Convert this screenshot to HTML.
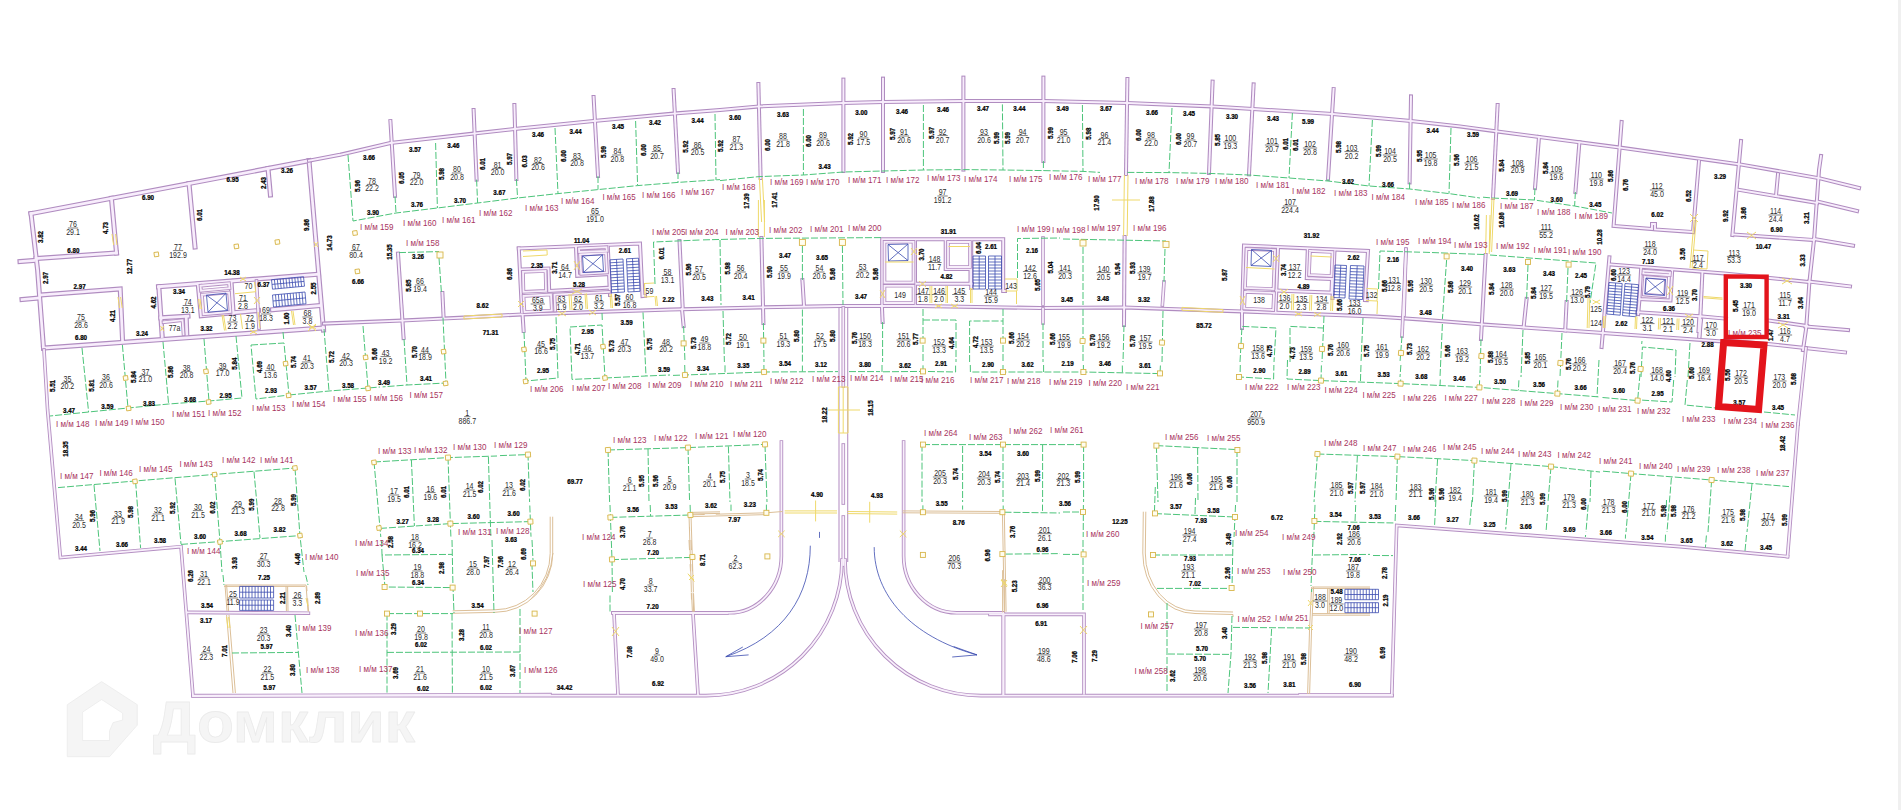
<!DOCTYPE html>
<html lang="ru"><head><meta charset="utf-8"><title>План этажа</title>
<style>
html,body{margin:0;padding:0;background:#fff;}
body{width:1901px;height:810px;overflow:hidden;}
svg{display:block;font-family:"Liberation Sans",sans-serif;}
.wo{fill:none;stroke:#b08cc0;stroke-width:5;stroke-linecap:square;stroke-linejoin:miter;}
.wi{fill:none;stroke:#f8edfc;stroke-width:2.7;stroke-linecap:square;stroke-linejoin:miter;}
.mo{fill:none;stroke:#b08cc0;stroke-width:4;stroke-linecap:square;stroke-linejoin:miter;}
.mi{fill:none;stroke:#f8edfc;stroke-width:1.9;stroke-linecap:square;stroke-linejoin:miter;}
.to{fill:none;stroke:#b48fc2;stroke-width:3.6;stroke-linecap:square;stroke-linejoin:miter;}
.ti{fill:none;stroke:#f8effb;stroke-width:1.8;stroke-linecap:square;stroke-linejoin:miter;}
.pl{fill:none;stroke:#b894c6;stroke-width:1.1;}
.g{fill:none;stroke:#4cc47a;stroke-width:1;stroke-dasharray:7 2;}
.gs{fill:none;stroke:#44c272;stroke-width:1;}
.d{font-size:6.9px;font-weight:bold;fill:#000;stroke:#000;stroke-width:.25;text-anchor:middle;}
.r{font-size:8.8px;fill:#2a2a2a;text-anchor:middle;}
.ru{stroke:#333;stroke-width:.7;}
.m{font-size:8.2px;fill:#a8345e;text-anchor:start;}
.c{fill:#fffdf0;stroke:#d8b64a;stroke-width:.9;}
.tn{fill:none;stroke:#dcbf98;stroke-width:1;}
.y{fill:none;stroke:#efd96a;stroke-width:1;}
.b{fill:none;stroke:#3b4bb0;stroke-width:.8;}
.red{fill:none;stroke:#e3141c;stroke-width:4;}
.wm{fill:#f5f5f5;stroke:#ebebeb;stroke-width:.8;stroke-linejoin:round;}
</style></head><body>
<svg width="1901" height="810" viewBox="0 0 1901 810">
<rect width="1901" height="810" fill="#fff"/><rect x="1898" width="3" height="810" fill="#f0f0f0"/>

<g class="wo">
<polyline points="31,213.6 309,160.7"/>
<polyline points="31,213.6 37.6,270 43.5,348"/>
<polyline points="20,261.5 34,260.5"/>
<polyline points="22,299.5 39,298"/>
<polyline points="111.4,198.3 116.5,253"/>
<polyline points="36,258.5 116.5,253"/>
<polyline points="40,295 120.2,289 122.6,341.5"/>
<polyline points="43.5,348 323.5,328"/>
<polyline points="189,183.6 195,247"/>
<polyline points="268,168.5 270.4,195"/>
<polyline points="309,160.6 323.5,330"/>
<polyline points="158.5,286.7 318.5,274.2"/>
<polyline points="158.8,286.7 162.2,336.5"/>
<polyline points="160.8,317.8 188,316.2"/>
<polyline points="186.2,316.5 186.8,334"/>
<polyline points="198.2,284 201.2,315.7 258.5,310.5"/>
<polyline points="231,281.5 233.2,313.2"/>
<polyline points="272.5,309.7 320.5,305.5"/>
</g>
<g class="wi">
<polyline points="31,213.6 309,160.7"/>
<polyline points="31,213.6 37.6,270 43.5,348"/>
<polyline points="20,261.5 34,260.5"/>
<polyline points="22,299.5 39,298"/>
<polyline points="111.4,198.3 116.5,253"/>
<polyline points="36,258.5 116.5,253"/>
<polyline points="40,295 120.2,289 122.6,341.5"/>
<polyline points="43.5,348 323.5,328"/>
<polyline points="189,183.6 195,247"/>
<polyline points="268,168.5 270.4,195"/>
<polyline points="309,160.6 323.5,330"/>
<polyline points="158.5,286.7 318.5,274.2"/>
<polyline points="158.8,286.7 162.2,336.5"/>
<polyline points="160.8,317.8 188,316.2"/>
<polyline points="186.2,316.5 186.8,334"/>
<polyline points="198.2,284 201.2,315.7 258.5,310.5"/>
<polyline points="231,281.5 233.2,313.2"/>
<polyline points="272.5,309.7 320.5,305.5"/>
</g>
<g class="mo">
<polyline points="309,160.7 340,154.8 390.4,143 473.6,133.6 514.4,129 593.6,121 673.6,113.6 720,110 759,106.4 843.4,103 883,102 963.4,101 1043.4,101 1127.4,103 1212,106.4 1253,109 1332.6,114 1411,121 1460,126.4 1497,131.4 1620,147.6 1740,164.4 1820,178.4 1859,188"/>
<polyline points="398,253.6 403.6,338"/>
<polyline points="442.4,293 443.6,317.6"/>
<polyline points="522.6,315 523.6,331"/>
<polyline points="518.8,248.5 640,243.5 642.5,296 645,295.8"/>
<polyline points="518.8,248.5 522,312"/>
<polyline points="521,269.5 548.5,268.5 549.2,291 609.5,287.7"/>
<polyline points="576,247.8 577.2,275.8 608.5,274"/>
<polyline points="607.8,246.8 610,295"/>
<polyline points="679.5,241 682.7,308"/>
<polyline points="390.4,121 395,196"/>
<polyline points="473.6,110 476.6,179.6"/>
<polyline points="514.4,105 516.4,179"/>
<polyline points="593.6,97 598,176"/>
<polyline points="673.6,90 678,172"/>
<polyline points="758.4,84 760.6,178"/>
<polyline points="843.4,79.6 843.4,171"/>
<polyline points="883,78.6 883,171"/>
<polyline points="963.4,77.6 963.4,169.6"/>
<polyline points="1043.4,77.6 1043.4,161"/>
<polyline points="1127.4,79 1126,174"/>
<polyline points="1212.6,81.6 1209,173"/>
<polyline points="1253.6,84.4 1249,174.4"/>
<polyline points="1333.6,89 1328,179"/>
<polyline points="1411,96.4 1409.6,182.4"/>
<polyline points="1497.6,105 1493,198"/>
<polyline points="1539,137 1535,188"/>
<polyline points="1579.4,142.4 1575.4,192"/>
<polyline points="1621.6,122 1613.6,226 1652,229 1652,224 1655,224 1655,229.4 1693,232"/>
<polyline points="1699,161 1693,232"/>
<polyline points="1741,141 1732.4,235"/>
<polyline points="1821,156 1819,170 1814.2,238 1809.4,282 1806.2,328 1803,350"/>
<polyline points="1817,201.4 1857,211"/>
<polyline points="1814,239 1853,245.6"/>
<polyline points="1809,281.6 1850,286.4"/>
<polyline points="1805.4,326.4 1848,330"/>
<polyline points="1738,189.6 1817,203"/>
<polyline points="1778,174 1776,195.6"/>
<polyline points="1733,234.4 1814,240"/>
<polyline points="682,309 683.6,326"/>
<polyline points="761.4,238 763.4,323"/>
<polyline points="802.4,280 804,305.6"/>
<polyline points="882,308 882.6,322"/>
<polyline points="882.2,305 882.2,239.2 1003.2,239.2 1003.2,291 1005,291"/>
<polyline points="915,240 915,304"/>
<polyline points="945.7,240 945.7,269 970.5,269 970.5,283.8"/>
<polyline points="915,283.8 972,283.8"/>
<polyline points="971.2,240 971.2,288"/>
<polyline points="1124.6,237 1124,325"/>
<polyline points="1242,312 1242,328"/>
<polyline points="1242,314 1244,245.5 1368,251 1365,300 1366.8,300.1"/>
<polyline points="1278,248 1275.5,311"/>
<polyline points="1307.8,249 1306.8,278 1332,279 1331.5,292"/>
<polyline points="1276,290.5 1333,292.7"/>
<polyline points="1334.5,250 1332.5,298"/>
<polyline points="1485.6,255 1481,339"/>
<polyline points="1526.6,299 1523.6,327.4"/>
<polyline points="1566.6,302 1565.2,330.4"/>
<polyline points="1609.4,257.4 1601.6,347"/>
<polyline points="1610,264.4 1724,273.4 1809,282"/>
<polyline points="1637.4,312.2 1699.6,316.3 1726,318.7"/>
<polyline points="1702.4,272.4 1699.4,337"/>
<polyline points="1641.2,267.2 1639.5,299 1670.5,300.5 1672.2,270"/>
<polyline points="1639.5,299 1638.2,314"/>
<polyline points="1699.3,316.8 1698.5,331"/>
<polyline points="1768,320.4 1807,326"/>
<polyline points="1701,320 1699.4,336.4"/>
<polyline points="324,323.6 402,320.6 464,317.6 522,314.4 670,309.6 760,307.4 840,306 920,306 1040,308 1124,307.4 1242,311.4 1376,316.6 1420,319.4 1484,324.6 1603,333 1722,341.4 1724,340.6 1768,344 1805,348 1845,352.4"/>
</g>
<g class="mi">
<polyline points="309,160.7 340,154.8 390.4,143 473.6,133.6 514.4,129 593.6,121 673.6,113.6 720,110 759,106.4 843.4,103 883,102 963.4,101 1043.4,101 1127.4,103 1212,106.4 1253,109 1332.6,114 1411,121 1460,126.4 1497,131.4 1620,147.6 1740,164.4 1820,178.4 1859,188"/>
<polyline points="398,253.6 403.6,338"/>
<polyline points="442.4,293 443.6,317.6"/>
<polyline points="522.6,315 523.6,331"/>
<polyline points="518.8,248.5 640,243.5 642.5,296 645,295.8"/>
<polyline points="518.8,248.5 522,312"/>
<polyline points="521,269.5 548.5,268.5 549.2,291 609.5,287.7"/>
<polyline points="576,247.8 577.2,275.8 608.5,274"/>
<polyline points="607.8,246.8 610,295"/>
<polyline points="679.5,241 682.7,308"/>
<polyline points="390.4,121 395,196"/>
<polyline points="473.6,110 476.6,179.6"/>
<polyline points="514.4,105 516.4,179"/>
<polyline points="593.6,97 598,176"/>
<polyline points="673.6,90 678,172"/>
<polyline points="758.4,84 760.6,178"/>
<polyline points="843.4,79.6 843.4,171"/>
<polyline points="883,78.6 883,171"/>
<polyline points="963.4,77.6 963.4,169.6"/>
<polyline points="1043.4,77.6 1043.4,161"/>
<polyline points="1127.4,79 1126,174"/>
<polyline points="1212.6,81.6 1209,173"/>
<polyline points="1253.6,84.4 1249,174.4"/>
<polyline points="1333.6,89 1328,179"/>
<polyline points="1411,96.4 1409.6,182.4"/>
<polyline points="1497.6,105 1493,198"/>
<polyline points="1539,137 1535,188"/>
<polyline points="1579.4,142.4 1575.4,192"/>
<polyline points="1621.6,122 1613.6,226 1652,229 1652,224 1655,224 1655,229.4 1693,232"/>
<polyline points="1699,161 1693,232"/>
<polyline points="1741,141 1732.4,235"/>
<polyline points="1821,156 1819,170 1814.2,238 1809.4,282 1806.2,328 1803,350"/>
<polyline points="1817,201.4 1857,211"/>
<polyline points="1814,239 1853,245.6"/>
<polyline points="1809,281.6 1850,286.4"/>
<polyline points="1805.4,326.4 1848,330"/>
<polyline points="1738,189.6 1817,203"/>
<polyline points="1778,174 1776,195.6"/>
<polyline points="1733,234.4 1814,240"/>
<polyline points="682,309 683.6,326"/>
<polyline points="761.4,238 763.4,323"/>
<polyline points="802.4,280 804,305.6"/>
<polyline points="882,308 882.6,322"/>
<polyline points="882.2,305 882.2,239.2 1003.2,239.2 1003.2,291 1005,291"/>
<polyline points="915,240 915,304"/>
<polyline points="945.7,240 945.7,269 970.5,269 970.5,283.8"/>
<polyline points="915,283.8 972,283.8"/>
<polyline points="971.2,240 971.2,288"/>
<polyline points="1124.6,237 1124,325"/>
<polyline points="1242,312 1242,328"/>
<polyline points="1242,314 1244,245.5 1368,251 1365,300 1366.8,300.1"/>
<polyline points="1278,248 1275.5,311"/>
<polyline points="1307.8,249 1306.8,278 1332,279 1331.5,292"/>
<polyline points="1276,290.5 1333,292.7"/>
<polyline points="1334.5,250 1332.5,298"/>
<polyline points="1485.6,255 1481,339"/>
<polyline points="1526.6,299 1523.6,327.4"/>
<polyline points="1566.6,302 1565.2,330.4"/>
<polyline points="1609.4,257.4 1601.6,347"/>
<polyline points="1610,264.4 1724,273.4 1809,282"/>
<polyline points="1637.4,312.2 1699.6,316.3 1726,318.7"/>
<polyline points="1702.4,272.4 1699.4,337"/>
<polyline points="1641.2,267.2 1639.5,299 1670.5,300.5 1672.2,270"/>
<polyline points="1639.5,299 1638.2,314"/>
<polyline points="1699.3,316.8 1698.5,331"/>
<polyline points="1768,320.4 1807,326"/>
<polyline points="1701,320 1699.4,336.4"/>
<polyline points="324,323.6 402,320.6 464,317.6 522,314.4 670,309.6 760,307.4 840,306 920,306 1040,308 1124,307.4 1242,311.4 1376,316.6 1420,319.4 1484,324.6 1603,333 1722,341.4 1724,340.6 1768,344 1805,348 1845,352.4"/>
</g>
<g class="to">
<polyline points="163.5,322.2 182.5,320.2 183.5,334.2"/>
<polyline points="200.5,285.7 229,283.2 229.5,288.2 201,290.7 200.5,285.7"/>
<polyline points="202,294.7 229,292.4 230.5,312 203.5,314.2 202,294.7"/>
<polyline points="256.5,281 259,328"/>
<polyline points="44,350 47.6,410 60.4,557.6 181,546.6 193,696 550,694.6"/>
<polyline points="523,271.8 545.5,271 546,290.8 523.5,291.8 523,271.8"/>
<polyline points="579,248.5 606.5,247.2 606.8,251 579.2,252 579,248.5"/>
<polyline points="580,254.5 606,253.2 607,272.5 581.2,273.8 580,254.5"/>
<polyline points="523.5,296 551,294.5 551.8,310.5 524.5,312 523.5,296"/>
<polyline points="555.2,310.5 554.5,294.5 609,292"/>
<polyline points="884.5,241.8 913.5,241.8 913.5,282.5 884.5,282.5 884.5,241.8"/>
<polyline points="948,242 970,242 970,267 948,267 948,242"/>
<polyline points="884.5,285.8 913.5,285.8 913.5,303 884.5,303 884.5,285.8"/>
<polyline points="1043,238 1043,304"/>
<polyline points="1043,309 1043,323"/>
<polyline points="1164,282 1162.4,305"/>
<polyline points="1406,249 1402,336"/>
<polyline points="1246.5,249 1275,250 1273.5,289 1245,288 1246.5,249"/>
<polyline points="1310,251 1332.5,252 1331.5,276 1309,275 1310,251"/>
<polyline points="1245,292 1274,293 1273.2,310 1244.2,308.5 1245,292"/>
<polyline points="1406,250 1404,315"/>
<polyline points="1643.5,270.7 1670,272.7 1669.8,275.2 1643.3,273.5 1643.5,270.7"/>
<polyline points="1645,276.8 1666.2,278.5 1665,296.2 1643.8,294.5 1645,276.8"/>
<polyline points="1806,348 1798,424"/>
<polyline points="843.3,308 843.3,386"/>
<polyline points="843.3,445 843.3,503"/>
<polyline points="843.3,517 843.3,565"/>
<polyline points="1798,424 1787.5,556.6"/>
<polyline points="187.6,612.4 308.4,613.2"/>
<polyline points="614,613 618,694.4"/>
<polyline points="693,613.6 698,694.4"/>
<polyline points="613,613 727,613"/>
<polyline points="1003.2,613 1003.2,694.1"/>
<polyline points="990,614.4 1084,614.4 1084,693.6"/>
<polyline points="1003.6,614.4 1003.6,693.6"/>
<polyline points="1300,695 1391.8,695 1396.7,525.4 1680,546.6 1787.5,556.6"/>
<path d="M781.4 442 V555.4 A51.8 57 0 0 1 729.6 612.8 H613"/>
<path d="M903.6 442 V555.4 A53 57 0 0 0 956.6 612.8 H1003"/>
<path d="M193 695.6 H706 A136 135.6 0 0 0 842 560"/>
<path d="M845 560 A136 135.6 0 0 0 981 695.6 H1392"/>
</g><g class="ti">
<polyline points="163.5,322.2 182.5,320.2 183.5,334.2"/>
<polyline points="200.5,285.7 229,283.2 229.5,288.2 201,290.7 200.5,285.7"/>
<polyline points="202,294.7 229,292.4 230.5,312 203.5,314.2 202,294.7"/>
<polyline points="256.5,281 259,328"/>
<polyline points="44,350 47.6,410 60.4,557.6 181,546.6 193,696 550,694.6"/>
<polyline points="523,271.8 545.5,271 546,290.8 523.5,291.8 523,271.8"/>
<polyline points="579,248.5 606.5,247.2 606.8,251 579.2,252 579,248.5"/>
<polyline points="580,254.5 606,253.2 607,272.5 581.2,273.8 580,254.5"/>
<polyline points="523.5,296 551,294.5 551.8,310.5 524.5,312 523.5,296"/>
<polyline points="555.2,310.5 554.5,294.5 609,292"/>
<polyline points="884.5,241.8 913.5,241.8 913.5,282.5 884.5,282.5 884.5,241.8"/>
<polyline points="948,242 970,242 970,267 948,267 948,242"/>
<polyline points="884.5,285.8 913.5,285.8 913.5,303 884.5,303 884.5,285.8"/>
<polyline points="1043,238 1043,304"/>
<polyline points="1043,309 1043,323"/>
<polyline points="1164,282 1162.4,305"/>
<polyline points="1406,249 1402,336"/>
<polyline points="1246.5,249 1275,250 1273.5,289 1245,288 1246.5,249"/>
<polyline points="1310,251 1332.5,252 1331.5,276 1309,275 1310,251"/>
<polyline points="1245,292 1274,293 1273.2,310 1244.2,308.5 1245,292"/>
<polyline points="1406,250 1404,315"/>
<polyline points="1643.5,270.7 1670,272.7 1669.8,275.2 1643.3,273.5 1643.5,270.7"/>
<polyline points="1645,276.8 1666.2,278.5 1665,296.2 1643.8,294.5 1645,276.8"/>
<polyline points="1806,348 1798,424"/>
<polyline points="843.3,308 843.3,386"/>
<polyline points="843.3,445 843.3,503"/>
<polyline points="843.3,517 843.3,565"/>
<polyline points="1798,424 1787.5,556.6"/>
<polyline points="187.6,612.4 308.4,613.2"/>
<polyline points="614,613 618,694.4"/>
<polyline points="693,613.6 698,694.4"/>
<polyline points="613,613 727,613"/>
<polyline points="1003.2,613 1003.2,694.1"/>
<polyline points="990,614.4 1084,614.4 1084,693.6"/>
<polyline points="1003.6,614.4 1003.6,693.6"/>
<polyline points="1300,695 1391.8,695 1396.7,525.4 1680,546.6 1787.5,556.6"/>
<path d="M781.4 442 V555.4 A51.8 57 0 0 1 729.6 612.8 H613"/>
<path d="M903.6 442 V555.4 A53 57 0 0 0 956.6 612.8 H1003"/>
<path d="M193 695.6 H706 A136 135.6 0 0 0 842 560"/>
<path d="M845 560 A136 135.6 0 0 0 981 695.6 H1392"/>
</g>
<g class="pl">
<polyline points="839,308 839,562"/>
<polyline points="847.7,308 847.7,562"/>
</g>
<g class="tn">
<polyline points="225,585 306,585 308,611"/>
<polyline points="224,586.4 305,586.4"/>
<polyline points="225,585 227,611"/>
<polyline points="226.6,585 228.6,611"/>
<polyline points="286,586 286.4,611"/>
<polyline points="287.6,586 288,611"/>
<polyline points="306.6,586 307,591.1"/>
<polyline points="307.6,598.3 308.6,611.6"/>
<polyline points="226.6,615 233,693"/>
<polyline points="229,615 235.4,693"/>
<polyline points="690.4,512.4 720,511.8"/>
<polyline points="690.4,514 720,513.4"/>
<polyline points="689,515 691.4,592"/>
<polyline points="691,515 693.4,592"/>
<polyline points="689,540 689.5,550.1"/>
<polyline points="690.1,564.2 690.5,571.3"/>
<polyline points="691.5,593.4 692.4,611.6"/>
<polyline points="691,540 691.5,550.1"/>
<polyline points="692.1,564.2 692.5,571.3"/>
<polyline points="693.5,593.4 694.4,611.6"/>
<polyline points="690.5,514.9 704.7,514.5"/>
<polyline points="715.8,514.2 766.4,512.8 782.6,511.5"/>
<polyline points="690.5,516.7 766.4,514.6"/>
<polyline points="689.5,527 689.6,531"/>
<polyline points="691.3,592.5 691.5,599.6"/>
<polyline points="693.1,592.5 693.6,611.7"/>
<polyline points="902.5,510.9 1003.2,511.5"/>
<polyline points="902.5,512.8 1003.2,513.3"/>
<polyline points="1002.4,511.5 1004.3,611.7"/>
<polyline points="1004.3,511.5 1006.1,611.7"/>
<polyline points="1002.6,570.2 1002.6,612.4"/>
<polyline points="1004.6,579.2 1004.6,612.4"/>
<polyline points="1311.6,587 1309.6,628 1307.6,694"/>
<polyline points="1313.6,587 1311.6,628 1309.6,694"/>
<polyline points="1312,587 1370,587"/>
<polyline points="1312,588.4 1370,588.4"/>
<polyline points="1312,613.6 1370,613.6"/>
<polyline points="1312,615.2 1370,615.2"/>
<polyline points="1327.6,588.4 1327.6,613.6"/>
<polyline points="1329.2,588.4 1329.2,613.6"/>
<path d="M553.0 553.0 Q551.0 580.0 530.0 600.0"/>
<path d="M552.7 516.7 V553.3 A57.7 59 0 0 1 495 612.3 L452.7 613.3"/>
<path d="M550.2 516.7 V553.3 A55.2 56.5 0 0 1 495 609.8 L452.7 610.8"/>
<path d="M1143.3 511.7 L1142.8 553 A52 60 0 0 0 1195 613.5 L1233 614.5 V617"/>
<path d="M1145.8 511.7 L1145.3 553 A49.5 57.5 0 0 0 1195 611 L1233 612"/>
</g>
<g class="b">
<polyline points="206.5,295.2 226,293.2 227.5,310.5 208,312.2 206.5,295.2"/>
<polyline points="206.5,295.2 227.5,310.5"/>
<polyline points="226,293.2 208,312.2"/>
<polyline points="271.5,279.7 303.5,276.7 304.5,286.2 272.5,289.2 271.5,279.7"/>
<polyline points="274.4,279.4 275.4,288.9"/>
<polyline points="277.3,279.2 278.3,288.7"/>
<polyline points="280.2,278.9 281.2,288.4"/>
<polyline points="283.1,278.6 284.1,288.1"/>
<polyline points="286,278.3 287,287.8"/>
<polyline points="289,278.1 290,287.6"/>
<polyline points="291.9,277.8 292.9,287.3"/>
<polyline points="294.8,277.5 295.8,287"/>
<polyline points="297.7,277.2 298.7,286.7"/>
<polyline points="300.6,277 301.6,286.5"/>
<polyline points="272,284.4 304,281.4"/>
<polyline points="272.5,295 305,292 306,303.8 273.5,307 272.5,295"/>
<polyline points="275.5,294.7 276.5,306.7"/>
<polyline points="278.4,294.5 279.4,306.4"/>
<polyline points="281.4,294.2 282.4,306.1"/>
<polyline points="284.3,293.9 285.3,305.8"/>
<polyline points="287.3,293.6 288.3,305.5"/>
<polyline points="290.2,293.4 291.2,305.3"/>
<polyline points="293.2,293.1 294.2,305"/>
<polyline points="296.1,292.8 297.1,304.7"/>
<polyline points="299.1,292.5 300.1,304.4"/>
<polyline points="302,292.3 303,304.1"/>
<polyline points="273,301 305.5,297.9"/>
<polyline points="582.5,256 602.5,254.8 603.5,271.5 583.5,272.5 582.5,256"/>
<polyline points="582.5,256 603.5,271.5"/>
<polyline points="602.5,254.8 583.5,272.5"/>
<polyline points="610,259.8 611.5,292.8 624.5,292 623,259 610,259.8"/>
<polyline points="610.1,262.8 623.1,262"/>
<polyline points="610.3,265.8 623.3,265"/>
<polyline points="610.4,268.8 623.4,268"/>
<polyline points="610.5,271.8 623.5,271"/>
<polyline points="610.7,274.8 623.7,274"/>
<polyline points="610.8,277.8 623.8,277"/>
<polyline points="611,280.8 624,280"/>
<polyline points="611.1,283.8 624.1,283"/>
<polyline points="611.2,286.8 624.2,286"/>
<polyline points="611.4,289.8 624.4,289"/>
<polyline points="616.5,259.4 618,292.4"/>
<polyline points="626.5,258.8 628,292 640,291.3 638.5,258.2 626.5,258.8"/>
<polyline points="626.6,261.8 638.6,261.2"/>
<polyline points="626.8,264.8 638.8,264.2"/>
<polyline points="626.9,267.9 638.9,267.2"/>
<polyline points="627,270.9 639,270.2"/>
<polyline points="627.2,273.9 639.2,273.2"/>
<polyline points="627.3,276.9 639.3,276.3"/>
<polyline points="627.5,279.9 639.5,279.3"/>
<polyline points="627.6,282.9 639.6,282.3"/>
<polyline points="627.7,286 639.7,285.3"/>
<polyline points="627.9,289 639.9,288.3"/>
<polyline points="632.5,258.5 634,291.6"/>
<polyline points="888,244.5 908,244 908,260.5 888.5,261 888,244.5"/>
<polyline points="888,244.5 908,260.5"/>
<polyline points="908,244 888.5,261"/>
<polyline points="973,256 973,289 985.5,289 985.5,256 973,256"/>
<polyline points="973,259 985.5,259"/>
<polyline points="973,262 985.5,262"/>
<polyline points="973,265 985.5,265"/>
<polyline points="973,268 985.5,268"/>
<polyline points="973,271 985.5,271"/>
<polyline points="973,274 985.5,274"/>
<polyline points="973,277 985.5,277"/>
<polyline points="973,280 985.5,280"/>
<polyline points="973,283 985.5,283"/>
<polyline points="973,286 985.5,286"/>
<polyline points="979.2,256 979.2,289"/>
<polyline points="988.5,256 988.5,289 1001.5,289 1001.5,256 988.5,256"/>
<polyline points="988.5,259 1001.5,259"/>
<polyline points="988.5,262 1001.5,262"/>
<polyline points="988.5,265 1001.5,265"/>
<polyline points="988.5,268 1001.5,268"/>
<polyline points="988.5,271 1001.5,271"/>
<polyline points="988.5,274 1001.5,274"/>
<polyline points="988.5,277 1001.5,277"/>
<polyline points="988.5,280 1001.5,280"/>
<polyline points="988.5,283 1001.5,283"/>
<polyline points="988.5,286 1001.5,286"/>
<polyline points="995,256 995,289"/>
<polyline points="1251.5,249.5 1271.5,250.5 1271,266.5 1251,265.5 1251.5,249.5"/>
<polyline points="1251.5,249.5 1271,266.5"/>
<polyline points="1271.5,250.5 1251,265.5"/>
<polyline points="1335,265 1333.5,297.5 1345,298 1346.5,265.5 1335,265"/>
<polyline points="1334.9,268 1346.4,268.5"/>
<polyline points="1334.7,270.9 1346.2,271.4"/>
<polyline points="1334.6,273.9 1346.1,274.4"/>
<polyline points="1334.5,276.8 1346,277.3"/>
<polyline points="1334.3,279.8 1345.8,280.3"/>
<polyline points="1334.2,282.7 1345.7,283.2"/>
<polyline points="1334,285.7 1345.5,286.2"/>
<polyline points="1333.9,288.6 1345.4,289.1"/>
<polyline points="1333.8,291.6 1345.3,292.1"/>
<polyline points="1333.6,294.5 1345.1,295"/>
<polyline points="1340.8,265.2 1339.2,297.8"/>
<polyline points="1350.5,265.5 1349,299 1362.5,299.5 1364,266 1350.5,265.5"/>
<polyline points="1350.4,268.5 1363.9,269"/>
<polyline points="1350.2,271.6 1363.7,272.1"/>
<polyline points="1350.1,274.6 1363.6,275.1"/>
<polyline points="1350,277.7 1363.5,278.2"/>
<polyline points="1349.8,280.7 1363.3,281.2"/>
<polyline points="1349.7,283.8 1363.2,284.3"/>
<polyline points="1349.5,286.8 1363,287.3"/>
<polyline points="1349.4,289.9 1362.9,290.4"/>
<polyline points="1349.3,292.9 1362.8,293.4"/>
<polyline points="1349.1,296 1362.6,296.5"/>
<polyline points="1357.2,265.8 1355.8,299.2"/>
<polyline points="1646,278 1665.5,279.5 1664.5,295.5 1644.8,294 1646,278"/>
<polyline points="1646,278 1664.5,295.5"/>
<polyline points="1665.5,279.5 1644.8,294"/>
<polyline points="1609,282.5 1606.8,314 1620.2,315.2 1622.2,283.5 1609,282.5"/>
<polyline points="1608.8,285.4 1622,286.4"/>
<polyline points="1608.6,288.2 1621.8,289.3"/>
<polyline points="1608.4,291.1 1621.7,292.1"/>
<polyline points="1608.2,294 1621.5,295"/>
<polyline points="1608,296.8 1621.3,297.9"/>
<polyline points="1607.8,299.7 1621.1,300.8"/>
<polyline points="1607.6,302.5 1620.9,303.7"/>
<polyline points="1607.4,305.4 1620.7,306.6"/>
<polyline points="1607.2,308.3 1620.6,309.4"/>
<polyline points="1607,311.1 1620.4,312.3"/>
<polyline points="1615.6,283 1613.5,314.6"/>
<polyline points="1625,283.5 1622.5,315.5 1636,316.8 1638.5,284.7 1625,283.5"/>
<polyline points="1624.8,286.4 1638.3,287.6"/>
<polyline points="1624.5,289.3 1638,290.5"/>
<polyline points="1624.3,292.2 1637.8,293.5"/>
<polyline points="1624.1,295.1 1637.6,296.4"/>
<polyline points="1623.9,298 1637.4,299.3"/>
<polyline points="1623.6,301 1637.1,302.2"/>
<polyline points="1623.4,303.9 1636.9,305.1"/>
<polyline points="1623.2,306.8 1636.7,308"/>
<polyline points="1623,309.7 1636.5,311"/>
<polyline points="1622.7,312.6 1636.2,313.9"/>
<polyline points="1631.8,284.1 1629.2,316.1"/>
<polyline points="239.6,586.4 273.6,586.4 273.6,598 239.6,598 239.6,586.4"/>
<polyline points="242.7,586.4 242.7,598"/>
<polyline points="245.8,586.4 245.8,598"/>
<polyline points="248.9,586.4 248.9,598"/>
<polyline points="252,586.4 252,598"/>
<polyline points="255.1,586.4 255.1,598"/>
<polyline points="258.1,586.4 258.1,598"/>
<polyline points="261.2,586.4 261.2,598"/>
<polyline points="264.3,586.4 264.3,598"/>
<polyline points="267.4,586.4 267.4,598"/>
<polyline points="270.5,586.4 270.5,598"/>
<polyline points="239.6,592.2 273.6,592.2"/>
<polyline points="239.6,600 273.6,600 273.6,610.4 239.6,610.4 239.6,600"/>
<polyline points="242.7,600 242.7,610.4"/>
<polyline points="245.8,600 245.8,610.4"/>
<polyline points="248.9,600 248.9,610.4"/>
<polyline points="252,600 252,610.4"/>
<polyline points="255.1,600 255.1,610.4"/>
<polyline points="258.1,600 258.1,610.4"/>
<polyline points="261.2,600 261.2,610.4"/>
<polyline points="264.3,600 264.3,610.4"/>
<polyline points="267.4,600 267.4,610.4"/>
<polyline points="270.5,600 270.5,610.4"/>
<polyline points="239.6,605.2 273.6,605.2"/>
<polyline points="742.8,647 725.8,656.7 748.6,654.9"/>
<polyline points="953.5,646.5 977,654.9 952.2,657"/>
<polyline points="819.5,531.9 819.5,537.9"/>
<polyline points="1344.9,589.3 1378.5,589.3 1378.5,599.7 1344.9,599.7 1344.9,589.3"/>
<polyline points="1348,589.3 1348,599.7"/>
<polyline points="1351,589.3 1351,599.7"/>
<polyline points="1354.1,589.3 1354.1,599.7"/>
<polyline points="1357.1,589.3 1357.1,599.7"/>
<polyline points="1360.2,589.3 1360.2,599.7"/>
<polyline points="1363.2,589.3 1363.2,599.7"/>
<polyline points="1366.3,589.3 1366.3,599.7"/>
<polyline points="1369.3,589.3 1369.3,599.7"/>
<polyline points="1372.4,589.3 1372.4,599.7"/>
<polyline points="1375.4,589.3 1375.4,599.7"/>
<polyline points="1344.9,594.5 1378.5,594.5"/>
<polyline points="1344.9,602.7 1378.5,602.7 1378.5,612.7 1344.9,612.7 1344.9,602.7"/>
<polyline points="1348,602.7 1348,612.7"/>
<polyline points="1351,602.7 1351,612.7"/>
<polyline points="1354.1,602.7 1354.1,612.7"/>
<polyline points="1357.1,602.7 1357.1,612.7"/>
<polyline points="1360.2,602.7 1360.2,612.7"/>
<polyline points="1363.2,602.7 1363.2,612.7"/>
<polyline points="1366.3,602.7 1366.3,612.7"/>
<polyline points="1369.3,602.7 1369.3,612.7"/>
<polyline points="1372.4,602.7 1372.4,612.7"/>
<polyline points="1375.4,602.7 1375.4,612.7"/>
<polyline points="1344.9,607.7 1378.5,607.7"/>
<path d="M810.3 545.7 C810.3 594.7 784.7 636.6 725.8 656.7"/>
<path d="M874.2 547.1 C874.2 594.7 910.3 636.6 977.0 654.9"/>
</g>
<g class="g">
<polyline points="82,348 88.6,412"/>
<polyline points="122.4,345 128,408"/>
<polyline points="163,342 168.6,404"/>
<polyline points="204,339 209,401"/>
<polyline points="236,336 242,398 209,401 168.6,404 128,408 88.6,412 50,416"/>
<polyline points="251,345 284,343 289,395 256,399 251,345"/>
<polyline points="283,332 283.8,340"/>
<polyline points="289,395 329,391 368,388 380,387"/>
<polyline points="324,329 329,391"/>
<polyline points="363,326 368,388"/>
<polyline points="58,487.6 135,481 214.6,474.4 295,468"/>
<polyline points="94,485 100,551"/>
<polyline points="135.6,481.6 140.6,548"/>
<polyline points="175,478.4 181,544"/>
<polyline points="214.6,475 220,542"/>
<polyline points="254,471.6 260,538"/>
<polyline points="295,468.4 300,536 304,572"/>
<polyline points="181,544.4 220,541.6 300,535.6"/>
<polyline points="220,542 222,572"/>
<polyline points="404,339 407,385"/>
<polyline points="443,317.6 446,383 407,385 382.6,386.9"/>
<polyline points="524,332 526,381 558,378 556,316"/>
<polyline points="570,327 602,325 605,378 572,379.4 570,327"/>
<polyline points="602,313 602.4,322"/>
<polyline points="605,378 646,376 670,375"/>
<polyline points="643,312.4 646,376"/>
<polyline points="399,252.6 439,251.6"/>
<polyline points="439,258 441.4,292.4"/>
<polyline points="655,284 653.5,242 700,240"/>
<polyline points="348,155 353,221 396,213 437.4,208 477.6,203 517.6,198 558,193.6 598,189.6 637.6,185.6 678,182.4 720,179.6"/>
<polyline points="395,196 396,213"/>
<polyline points="435.6,143 437.4,208"/>
<polyline points="476.6,179.6 477.6,203"/>
<polyline points="516.4,179 517.6,198"/>
<polyline points="555,128 558,193.6"/>
<polyline points="598,176 598,189.6"/>
<polyline points="635.6,121 637.6,185.6"/>
<polyline points="678,172 678,182.4"/>
<polyline points="715,114 716,180"/>
<polyline points="720,180.6 759,176.6 803.4,175 843.4,172 883,171 923.4,170 963.4,169.6 1003,170 1043.4,170.6 1083,171.4 1100,172.4"/>
<polyline points="803.4,109 803.4,175"/>
<polyline points="923.4,105 923.4,170"/>
<polyline points="1002.4,104.4 1003,170"/>
<polyline points="1082.4,105 1083,171.4"/>
<polyline points="1043.4,161 1043.4,170.6"/>
<polyline points="1127.4,172.4 1169,172.6 1209,173.4 1249,175 1289,178 1328,181 1369,186 1409.6,189 1449,193.6 1480,198"/>
<polyline points="1172,108 1169,172.6"/>
<polyline points="1292.4,113 1289,178"/>
<polyline points="1328,179 1328,181"/>
<polyline points="1372.4,120 1369,186"/>
<polyline points="1409.6,182.4 1409.6,189"/>
<polyline points="1451,128 1449,193.6"/>
<polyline points="1483,197.2 1492,198 1534.4,200 1574.6,206 1612,213"/>
<polyline points="1535,188 1534.4,200"/>
<polyline points="1575.4,192 1574.6,206"/>
<polyline points="703,239.9 760,238.4 881,237.6"/>
<polyline points="720,240 721,305"/>
<polyline points="802.4,246 802.4,280"/>
<polyline points="842.4,246 843,305"/>
<polyline points="683.6,326 685,362"/>
<polyline points="723,311 724.4,362"/>
<polyline points="763.4,323 764,362"/>
<polyline points="802.4,309.6 802.4,362"/>
<polyline points="882.6,322 882.6,362"/>
<polyline points="923,309 923,362"/>
<polyline points="923,320 956,320 956,362"/>
<polyline points="969.6,362 969.6,321 1003,321"/>
<polyline points="1003,309 1003,362"/>
<polyline points="1017.5,278 1017.5,238.5 1060,238"/>
<polyline points="1063,239 1166,241"/>
<polyline points="1083,247 1083,305"/>
<polyline points="1165,249 1164,282"/>
<polyline points="1043,323 1043,362"/>
<polyline points="1083,309 1083,362"/>
<polyline points="1124,325 1123,362"/>
<polyline points="1163,311 1162,362"/>
<polyline points="1240,362 1242,326.4 1276,328 1274,362"/>
<polyline points="1290,362 1290,326.4 1323,328"/>
<polyline points="1324,316 1322,362"/>
<polyline points="1363,318 1361,362"/>
<polyline points="1402,336 1400,362"/>
<polyline points="1378.5,289 1380,251 1420,252.2"/>
<polyline points="1423,252.2 1486,254.6"/>
<polyline points="1490,255 1596,263 1590,303"/>
<polyline points="1446.6,260 1442.4,319"/>
<polyline points="1528,265 1526.6,299"/>
<polyline points="1568,268 1566.6,302"/>
<polyline points="1400.9,365 1400,377"/>
<polyline points="1442.4,324 1440,377"/>
<polyline points="1481,339 1480,377"/>
<polyline points="1523,330 1521,377"/>
<polyline points="1562,333 1560,377"/>
<polyline points="1641,377 1642.4,347 1676,350 1675,377"/>
<polyline points="1690,343 1688,377"/>
<polyline points="1642,341 1641.7,344"/>
<polyline points="1673.7,380 1672,402 1640,400"/>
<polyline points="1687.3,380 1685,405 1716,408"/>
<polyline points="1764,412 1795,415"/>
<polyline points="673,375.4 685,375 764,372 838,371.6"/>
<polyline points="684.7,365 685,375"/>
<polyline points="725,365.3 725,373.4"/>
<polyline points="763.9,365 764,372"/>
<polyline points="802.4,365.5 802.4,371.6"/>
<polyline points="849,371.6 880,371.6"/>
<polyline points="608,450 688,447.6 765,444.4"/>
<polyline points="608,450 609.6,502"/>
<polyline points="648,449 649,502"/>
<polyline points="688,448 689.6,502"/>
<polyline points="728.4,446.4 730,502"/>
<polyline points="765,445 767,502"/>
<polyline points="500,455.6 528,454.6 529.6,502"/>
<polyline points="883,371.8 923,371.4 955.6,372 955.6,365"/>
<polyline points="882,365 882,372"/>
<polyline points="923,365.3 923,371.4"/>
<polyline points="970.3,365 970.4,372 1003,372 1083.4,372 1160,373.6 1160.4,365.5"/>
<polyline points="1003,365 1003,372"/>
<polyline points="1043.6,365 1043.6,372"/>
<polyline points="1083.4,365 1083.4,372"/>
<polyline points="1122.3,365.5 1122.4,372.6"/>
<polyline points="923,444.6 1003,444.6 1083.6,444.6"/>
<polyline points="922,444.6 922,502"/>
<polyline points="962.6,446 962.6,502"/>
<polyline points="1003,445 1003,502"/>
<polyline points="1042.6,445 1042.6,502"/>
<polyline points="1083.6,445 1083.6,502"/>
<polyline points="1156.4,445.6 1237,449.6"/>
<polyline points="1156.4,446 1158,502"/>
<polyline points="1197.6,448 1198,502"/>
<polyline points="1237,450 1237,502"/>
<polyline points="1240.3,365 1240,377 1273.6,379 1273.9,365"/>
<polyline points="1287.5,360 1287,379 1321,380.6 1400.6,383.6 1479.4,387.4 1557.4,393.6 1600,397"/>
<polyline points="1321.4,365.4 1321,380.6"/>
<polyline points="1361,365 1360.4,382"/>
<polyline points="1400.7,379.5 1400.6,383.6"/>
<polyline points="1440.3,379.5 1440,385.6"/>
<polyline points="1479.6,380.3 1479.4,387.4"/>
<polyline points="1518.9,380.3 1518.4,390.4"/>
<polyline points="1558,380.5 1557.4,393.6"/>
<polyline points="1599,360 1597,397"/>
<polyline points="1317.4,454 1397.4,456.6 1474.4,460.6 1551,466.6 1600,472"/>
<polyline points="1317.4,454.4 1314,502"/>
<polyline points="1357.4,455.6 1355,502"/>
<polyline points="1397.4,457 1396,502"/>
<polyline points="1437.6,459 1435,502"/>
<polyline points="1474.4,461 1472.4,502"/>
<polyline points="1511,464 1508,502"/>
<polyline points="1551,467 1548,502"/>
<polyline points="1591,471 1590,502"/>
<polyline points="1602.5,397.5 1637.6,400.6"/>
<polyline points="1640,374 1637.6,400.6"/>
<polyline points="1603,471.2 1631,473.6 1711.6,480 1789,486.6"/>
<polyline points="1548.1,505 1546,532"/>
<polyline points="1588.2,504.8 1586,532"/>
<polyline points="1631,474 1626,532"/>
<polyline points="1671.4,477.6 1667,532"/>
<polyline points="1711.6,480.4 1708,532"/>
<polyline points="1752,484 1747,532"/>
<polyline points="223,575 224,585"/>
<polyline points="305.7,575 308,585"/>
<polyline points="295,615 302,693"/>
<polyline points="232,653 298,652.4"/>
<polyline points="381.6,540 382,555 452,554.4"/>
<polyline points="382,555 385,587 453,587.6"/>
<polyline points="452,540 453,587.6 454,613"/>
<polyline points="492,540 494,613"/>
<polyline points="532,540 533,560"/>
<polyline points="387,613.6 453,613.6"/>
<polyline points="387,613.6 387,693"/>
<polyline points="387,652.4 520,652"/>
<polyline points="452,613.6 452.4,693"/>
<polyline points="520,609 520,693"/>
<polyline points="374,462 448,457.6 497,456"/>
<polyline points="374,462 380,528 380.8,537"/>
<polyline points="411.4,460 414.4,526"/>
<polyline points="448,457.6 450.4,524 450.9,537"/>
<polyline points="488.4,457 490.4,523 490.9,537"/>
<polyline points="529.8,505.5 530.4,521.6 531,536.7"/>
<polyline points="531.9,562.8 533,592"/>
<polyline points="380,528.4 450.4,523.6 530.4,521.6"/>
<polyline points="610,505 610.4,517 612,559 612.4,592"/>
<polyline points="650.2,505 650.6,516"/>
<polyline points="690.1,504.9 690.4,515"/>
<polyline points="610.4,517.4 690.4,515"/>
<polyline points="612,559.6 692,557.4"/>
<polyline points="610,595.5 610,611.6"/>
<polyline points="731,504.6 731,510.9"/>
<polyline points="766.4,504.6 766.4,510.9"/>
<polyline points="922.9,505.3 922.9,510.4"/>
<polyline points="962.6,505.5 962.6,509.6"/>
<polyline points="1003.2,505.5 1003.2,509.6"/>
<polyline points="1042.5,504.6 1042.5,510.9"/>
<polyline points="1004.5,512.2 1060,513"/>
<polyline points="1005.8,554.1 1060,553.6"/>
<polyline points="1063,554.4 1083,554.4"/>
<polyline points="1083,540 1083,612"/>
<polyline points="1153,555 1232,555"/>
<polyline points="1233,540 1232,588"/>
<polyline points="1157,588.4 1231.6,588.4"/>
<polyline points="1167,603 1167,693"/>
<polyline points="1168,654 1230,654.4"/>
<polyline points="1232,616 1231,654 1228,693"/>
<polyline points="1233,627.4 1310,628"/>
<polyline points="1271.6,629 1268,693"/>
<polyline points="1313,540 1311,586"/>
<polyline points="1314,555 1370,554.4"/>
<polyline points="1063,512 1083,512"/>
<polyline points="1083.4,505 1083.2,537"/>
<polyline points="1155.3,487 1154.4,513"/>
<polyline points="1195.5,498 1195,514"/>
<polyline points="1235.5,505 1235,517 1234,537"/>
<polyline points="1155,513.6 1235,517"/>
<polyline points="1315,504.9 1314.4,521 1313.8,537"/>
<polyline points="1311.7,589 1311.6,592"/>
<polyline points="1355.7,505 1355,522"/>
<polyline points="1395.7,505 1395,523"/>
<polyline points="1314.4,521.4 1395,523"/>
<polyline points="1373,555.5 1393,555.6"/>
<polyline points="1435.9,500 1434.6,524.9"/>
<polyline points="1472,500 1469.6,526.9"/>
<polyline points="1508.2,500 1505.7,529.4"/>
<polyline points="1625.5,534.5 1625.4,538.6"/>
<polyline points="1666.5,500 1666.2,511.2"/>
<polyline points="1665.5,534.7 1665.3,541.9"/>
<polyline points="1585.6,535 1585.4,537"/>
<polyline points="1706.4,535.5 1705.4,547.6"/>
<polyline points="1746.5,535 1745,551"/>
</g>
<g class="gs">
</g>
<g class="y">
<polyline points="112,234 113.6,245"/>
<polyline points="115.6,234 117,245"/>
<polyline points="314,242 318,247"/>
<polyline points="318,242 314,247"/>
<polyline points="222,315 224.5,330.5"/>
<polyline points="223.5,315 226,330.5"/>
<polyline points="240.5,314 242.5,329"/>
<polyline points="258,312 260,328"/>
<polyline points="291.5,311 293.5,325"/>
<polyline points="293,311 295,325"/>
<polyline points="235,293.7 256,291.7"/>
<polyline points="254.5,282 255.5,291"/>
<polyline points="198.5,299 200,309"/>
<polyline points="200,299 201.5,309"/>
<polyline points="240,277 246,281"/>
<polyline points="246,277 240,281"/>
<polyline points="309,325 316,329"/>
<polyline points="316,325 309,329"/>
<polyline points="250,330 257,334"/>
<polyline points="257,330 250,334"/>
<polyline points="160.5,326 164,331"/>
<polyline points="164,326 160.5,331"/>
<polyline points="254,297 260,304"/>
<polyline points="260,297 254,304"/>
<polyline points="118,297 119.6,308"/>
<polyline points="120.6,297 122.2,308"/>
<polyline points="464,316 502,314 502,317 464,319 464,316"/>
<polyline points="308,324 316,331"/>
<polyline points="316,324 308,331"/>
<polyline points="569,294 570,310"/>
<polyline points="571,294 572,310"/>
<polyline points="585,293.5 586,309"/>
<polyline points="586.5,293.5 587.5,309"/>
<polyline points="610,294 611,308"/>
<polyline points="611.5,294 612.5,308"/>
<polyline points="655,296 656,306"/>
<polyline points="656.5,296 657.5,306"/>
<polyline points="574,261 580,270"/>
<polyline points="580,261 574,270"/>
<polyline points="518,301 524,307"/>
<polyline points="524,301 518,307"/>
<polyline points="572,289 582,294"/>
<polyline points="582,289 572,294"/>
<polyline points="558,311 566,316"/>
<polyline points="566,311 558,316"/>
<polyline points="589,310 596,315"/>
<polyline points="596,310 589,315"/>
<polyline points="644.5,283.5 654,283"/>
<polyline points="644.5,297 654,296.5"/>
<polyline points="644.5,283 645,297"/>
<polyline points="523,251 547,250 547.2,255 523,256.5"/>
<polyline points="759.4,178 761.6,222"/>
<polyline points="762.4,178 764.6,222"/>
<polyline points="1112,200 1140,200"/>
<polyline points="1124.4,175 1123.6,236"/>
<polyline points="1128,175 1127.2,236"/>
<polyline points="1690,214 1698,222"/>
<polyline points="1698,214 1690,222"/>
<polyline points="1747,232 1756,239"/>
<polyline points="1756,232 1747,239"/>
<polyline points="1492,198 1489.6,252"/>
<polyline points="1494,198 1491.6,252"/>
<polyline points="1694.2,220 1690,268"/>
<polyline points="1696.2,220 1692,268"/>
<polyline points="1693,250 1708,251 1707,269 1692,268"/>
<polyline points="758.4,200 758.4,237"/>
<polyline points="764.4,200 764.4,237"/>
<polyline points="885,262 913.5,262"/>
<polyline points="948.5,246.5 970,246.5"/>
<polyline points="930,286 930,303"/>
<polyline points="931.8,286 931.8,303"/>
<polyline points="946,286 946,303"/>
<polyline points="947.5,286 947.5,303"/>
<polyline points="970.5,288 970.5,303"/>
<polyline points="972,288 972,303"/>
<polyline points="1005,279 1017,279 1017,291 1005,291"/>
<polyline points="1016.5,291 1016.5,304"/>
<polyline points="911,248 917,255"/>
<polyline points="917,248 911,255"/>
<polyline points="919,281 926,287"/>
<polyline points="926,281 919,287"/>
<polyline points="880,290 885,298"/>
<polyline points="885,290 880,298"/>
<polyline points="935,304 942,308"/>
<polyline points="942,304 935,308"/>
<polyline points="951,304 958,308"/>
<polyline points="958,304 951,308"/>
<polyline points="1182,307.4 1223,309.6 1223,312.4 1182,310.2 1182,307.4"/>
<polyline points="1246,267.5 1274.5,269"/>
<polyline points="1310.5,256 1332,257"/>
<polyline points="1292,294 1291.5,310"/>
<polyline points="1293.8,294 1293.3,310"/>
<polyline points="1310,295 1309.5,310.5"/>
<polyline points="1311.8,295 1311.3,310.5"/>
<polyline points="1331.2,296 1330.7,311"/>
<polyline points="1333,296 1332.5,311"/>
<polyline points="1366.5,288.5 1377.5,289 1377,301 1366,300.5"/>
<polyline points="1377.5,301 1377,314"/>
<polyline points="1273,255 1279,262"/>
<polyline points="1279,255 1273,262"/>
<polyline points="1280,289 1288,295"/>
<polyline points="1288,289 1280,295"/>
<polyline points="1240,296 1245,305"/>
<polyline points="1245,296 1240,305"/>
<polyline points="1295,312 1302,316"/>
<polyline points="1302,312 1295,316"/>
<polyline points="1314,312.5 1321,316.5"/>
<polyline points="1321,312.5 1314,316.5"/>
<polyline points="1486.4,215 1485.6,254"/>
<polyline points="1490,215 1489.2,254"/>
<polyline points="1588,298 1587.2,328"/>
<polyline points="1589.8,298 1589,328"/>
<polyline points="1603.8,316 1603.3,328"/>
<polyline points="1605.3,316 1604.8,328"/>
<polyline points="1635.5,316.5 1635,329"/>
<polyline points="1637,316.5 1636.5,329"/>
<polyline points="1658.8,318 1658.3,329.5"/>
<polyline points="1660.5,318 1660,329.5"/>
<polyline points="1677.2,318.5 1676.8,330"/>
<polyline points="1679,318.5 1678.6,330"/>
<polyline points="1703.5,296.5 1722.5,298"/>
<polyline points="1703.5,297.8 1722.5,299.3"/>
<polyline points="1592.5,300 1600,304"/>
<polyline points="1600,300 1592.5,304"/>
<polyline points="1667.5,286 1673,295"/>
<polyline points="1673,286 1667.5,295"/>
<polyline points="1685,314 1693,319"/>
<polyline points="1693,314 1685,319"/>
<polyline points="1782,278 1792,284"/>
<polyline points="1792,278 1782,284"/>
<polyline points="1778,322 1788,328"/>
<polyline points="1788,322 1778,328"/>
<polyline points="838.4,387 848,387 848,433 838.4,433 838.4,387"/>
<polyline points="828,410 860,410"/>
<polyline points="843.2,387 843.2,433"/>
<polyline points="226.6,617 228,628"/>
<polyline points="228.6,617 230,628"/>
<polyline points="306,598 308,606"/>
<polyline points="689,575 694,580"/>
<polyline points="694,575 689,580"/>
<polyline points="612,627 619,636"/>
<polyline points="619,627 612,636"/>
<polyline points="784.7,510.9 837,510.9"/>
<polyline points="784.7,513 837,513"/>
<polyline points="847.5,511.5 897.2,512"/>
<polyline points="847.5,513.6 897.2,514.1"/>
<polyline points="815.6,500.5 815.6,521.4"/>
<polyline points="869.7,501.8 869.7,522.7"/>
<polyline points="778.1,530.6 784.7,537.1"/>
<polyline points="784.7,530.6 778.1,537.1"/>
<polyline points="899.8,530.6 906.4,537.1"/>
<polyline points="906.4,530.6 899.8,537.1"/>
<polyline points="687.9,573.7 694.4,581.6"/>
<polyline points="1001.4,579 1007.1,585.5"/>
<polyline points="1001,580 1007,587"/>
<polyline points="1007,580 1001,587"/>
<polyline points="1080,626 1087,634"/>
<polyline points="1087,626 1080,634"/>
<polyline points="1308,600 1313,606"/>
<polyline points="1313,600 1308,606"/>
<polyline points="1308,625 1313,630"/>
<polyline points="1313,625 1308,630"/>
</g>
<g class="c">
<rect x="154.2" y="252.2" width="4.4" height="4.4" transform="rotate(-8 156.4 254.4)"/>
<rect x="234.2" y="244.2" width="4.4" height="4.4" transform="rotate(-8 236.4 246.4)"/>
<rect x="275.2" y="239.8" width="4.4" height="4.4" transform="rotate(-8 277.4 242)"/>
<rect x="352.8" y="230.8" width="4.4" height="4.4" transform="rotate(-8 355 233)"/>
<rect x="355.2" y="269.2" width="4.4" height="4.4" transform="rotate(-8 357.4 271.4)"/>
<rect x="123.4" y="375.8" width="4.4" height="4.4" transform="rotate(-8 125.6 378)"/>
<rect x="126.4" y="406.2" width="4.4" height="4.4" transform="rotate(-8 128.6 408.4)"/>
<rect x="203.8" y="369.2" width="4.4" height="4.4" transform="rotate(-8 206 371.4)"/>
<rect x="206.4" y="399.8" width="4.4" height="4.4" transform="rotate(-8 208.6 402)"/>
<rect x="283.4" y="361.4" width="4.4" height="4.4" transform="rotate(-8 285.6 363.6)"/>
<rect x="286.4" y="393.2" width="4.4" height="4.4" transform="rotate(-8 288.6 395.4)"/>
<rect x="363.4" y="355.2" width="4.4" height="4.4" transform="rotate(-8 365.6 357.4)"/>
<rect x="365.8" y="386.2" width="4.4" height="4.4" transform="rotate(-8 368 388.4)"/>
<rect x="132.8" y="479.2" width="4.4" height="4.4" transform="rotate(-8 135 481.4)"/>
<rect x="212.4" y="472.4" width="4.4" height="4.4" transform="rotate(-8 214.6 474.6)"/>
<rect x="292.8" y="465.8" width="4.4" height="4.4" transform="rotate(-8 295 468)"/>
<rect x="217.8" y="539.8" width="4.4" height="4.4" transform="rotate(-8 220 542)"/>
<rect x="297.8" y="533.4" width="4.4" height="4.4" transform="rotate(-8 300 535.6)"/>
<rect x="371.8" y="460.2" width="4.4" height="4.4" transform="rotate(-8 374 462.4)"/>
<rect x="376.8" y="525.8" width="4.4" height="4.4" transform="rotate(-8 379 528)"/>
<rect x="441.4" y="349.4" width="4.4" height="4.4" transform="rotate(-8 443.6 351.6)"/>
<rect x="443.4" y="381.2" width="4.4" height="4.4" transform="rotate(-8 445.6 383.4)"/>
<rect x="521.8" y="347.2" width="4.4" height="4.4" transform="rotate(-8 524 349.4)"/>
<rect x="523.4" y="379.2" width="4.4" height="4.4" transform="rotate(-8 525.6 381.4)"/>
<rect x="600.8" y="344.4" width="4.4" height="4.4" transform="rotate(-8 603 346.6)"/>
<rect x="602.8" y="375.8" width="4.4" height="4.4" transform="rotate(-8 605 378)"/>
<rect x="437" y="252" width="6" height="6" transform="rotate(0 440 255)"/>
<rect x="681.1" y="340.9" width="5" height="5" transform="rotate(0 683.6 343.4)"/>
<rect x="760.9" y="338.1" width="5" height="5" transform="rotate(0 763.4 340.6)"/>
<rect x="920.1" y="338.1" width="5" height="5" transform="rotate(0 922.6 340.6)"/>
<rect x="1000.5" y="338.1" width="5" height="5" transform="rotate(0 1003 340.6)"/>
<rect x="799.4" y="239.4" width="6" height="6" transform="rotate(0 802.4 242.4)"/>
<rect x="839.4" y="239.4" width="6" height="6" transform="rotate(0 842.4 242.4)"/>
<rect x="1080" y="240" width="6" height="6" transform="rotate(0 1083 243)"/>
<rect x="1163" y="241.4" width="6" height="6" transform="rotate(0 1166 244.4)"/>
<rect x="1080.1" y="338.5" width="5" height="5" transform="rotate(3 1082.6 341)"/>
<rect x="1159.5" y="340.1" width="5" height="5" transform="rotate(3 1162 342.6)"/>
<rect x="1238.5" y="343.5" width="5" height="5" transform="rotate(3 1241 346)"/>
<rect x="1319.5" y="346.5" width="5" height="5" transform="rotate(3 1322 349)"/>
<rect x="1398.5" y="350.5" width="5" height="5" transform="rotate(3 1401 353)"/>
<rect x="1444.1" y="253.9" width="5" height="5" transform="rotate(0 1446.6 256.4)"/>
<rect x="1525.5" y="259.5" width="5" height="5" transform="rotate(0 1528 262)"/>
<rect x="1566.1" y="262.1" width="5" height="5" transform="rotate(0 1568.6 264.6)"/>
<rect x="1478.9" y="353.5" width="5" height="5" transform="rotate(4 1481.4 356)"/>
<rect x="1557.9" y="360.5" width="5" height="5" transform="rotate(4 1560.4 363)"/>
<rect x="1638.1" y="366.5" width="5" height="5" transform="rotate(4 1640.6 369)"/>
<rect x="682.5" y="372.5" width="5" height="5" transform="rotate(-3 685 375)"/>
<rect x="761.5" y="369.5" width="5" height="5" transform="rotate(-3 764 372)"/>
<rect x="605.5" y="447.5" width="5" height="5" transform="rotate(-3 608 450)"/>
<rect x="685.5" y="445.1" width="5" height="5" transform="rotate(-3 688 447.6)"/>
<rect x="762.5" y="441.9" width="5" height="5" transform="rotate(-3 765 444.4)"/>
<rect x="525.5" y="452.1" width="5" height="5" transform="rotate(-3 528 454.6)"/>
<rect x="920.5" y="368.9" width="5" height="5" transform="rotate(0 923 371.4)"/>
<rect x="1000.5" y="369.5" width="5" height="5" transform="rotate(0 1003 372)"/>
<rect x="1080.9" y="369.5" width="5" height="5" transform="rotate(0 1083.4 372)"/>
<rect x="1157.5" y="370.9" width="5" height="5" transform="rotate(0 1160 373.4)"/>
<rect x="920.5" y="442.1" width="5" height="5" transform="rotate(0 923 444.6)"/>
<rect x="1000.5" y="442.1" width="5" height="5" transform="rotate(0 1003 444.6)"/>
<rect x="1081.1" y="442.1" width="5" height="5" transform="rotate(0 1083.6 444.6)"/>
<rect x="1153.9" y="443.1" width="5" height="5" transform="rotate(0 1156.4 445.6)"/>
<rect x="1234.9" y="447.5" width="5" height="5" transform="rotate(0 1237.4 450)"/>
<rect x="1236.5" y="374.5" width="5" height="5" transform="rotate(0 1239 377)"/>
<rect x="1318.5" y="378.1" width="5" height="5" transform="rotate(3 1321 380.6)"/>
<rect x="1398.1" y="381.1" width="5" height="5" transform="rotate(3 1400.6 383.6)"/>
<rect x="1476.9" y="384.9" width="5" height="5" transform="rotate(3 1479.4 387.4)"/>
<rect x="1554.9" y="391.1" width="5" height="5" transform="rotate(3 1557.4 393.6)"/>
<rect x="1314.9" y="451.5" width="5" height="5" transform="rotate(3 1317.4 454)"/>
<rect x="1394.9" y="454.1" width="5" height="5" transform="rotate(3 1397.4 456.6)"/>
<rect x="1471.9" y="458.1" width="5" height="5" transform="rotate(3 1474.4 460.6)"/>
<rect x="1548.5" y="464.1" width="5" height="5" transform="rotate(3 1551 466.6)"/>
<rect x="1635.1" y="398.1" width="5" height="5" transform="rotate(4 1637.6 400.6)"/>
<rect x="1628.5" y="471.1" width="5" height="5" transform="rotate(4 1631 473.6)"/>
<rect x="1709.1" y="477.5" width="5" height="5" transform="rotate(4 1711.6 480)"/>
<rect x="382.1" y="584.5" width="5" height="5" transform="rotate(0 384.6 587)"/>
<rect x="450.1" y="585.1" width="5" height="5" transform="rotate(0 452.6 587.6)"/>
<rect x="384.5" y="611.1" width="5" height="5" transform="rotate(0 387 613.6)"/>
<rect x="417.5" y="611.1" width="5" height="5" transform="rotate(0 420 613.6)"/>
<rect x="530.5" y="560.9" width="5" height="5" transform="rotate(0 533 563.4)"/>
<rect x="532.1" y="611.1" width="5" height="5" transform="rotate(0 534.6 613.6)"/>
<rect x="445.5" y="455.1" width="5" height="5" transform="rotate(-3 448 457.6)"/>
<rect x="447.9" y="521.1" width="5" height="5" transform="rotate(-3 450.4 523.6)"/>
<rect x="527.9" y="519.1" width="5" height="5" transform="rotate(-3 530.4 521.6)"/>
<rect x="607.9" y="514.9" width="5" height="5" transform="rotate(-3 610.4 517.4)"/>
<rect x="687.9" y="512.5" width="5" height="5" transform="rotate(-3 690.4 515)"/>
<rect x="609.5" y="556.9" width="5" height="5" transform="rotate(-3 612 559.4)"/>
<rect x="689.9" y="554.5" width="5" height="5" transform="rotate(-3 692.4 557)"/>
<rect x="764.9" y="553.9" width="5" height="5" transform="rotate(0 767.4 556.4)"/>
<rect x="763.9" y="510.3" width="5" height="5" transform="rotate(0 766.4 512.8)"/>
<rect x="920.4" y="509.7" width="5" height="5" transform="rotate(0 922.9 512.2)"/>
<rect x="999.9" y="509.7" width="5" height="5" transform="rotate(0 1002.4 512.2)"/>
<rect x="920.4" y="552.4" width="5" height="5" transform="rotate(0 922.9 554.9)"/>
<rect x="999.9" y="551.6" width="5" height="5" transform="rotate(0 1002.4 554.1)"/>
<rect x="1081.1" y="551.9" width="5" height="5" transform="rotate(0 1083.6 554.4)"/>
<rect x="1150.5" y="552.5" width="5" height="5" transform="rotate(0 1153 555)"/>
<rect x="1229.1" y="585.5" width="5" height="5" transform="rotate(0 1231.6 588)"/>
<rect x="1148.5" y="611.9" width="5" height="5" transform="rotate(0 1151 614.4)"/>
<rect x="1080.5" y="509.5" width="5" height="5" transform="rotate(0 1083 512)"/>
<rect x="1152.5" y="510.9" width="5" height="5" transform="rotate(0 1155 513.4)"/>
<rect x="1232.5" y="514.5" width="5" height="5" transform="rotate(0 1235 517)"/>
<rect x="1311.9" y="518.5" width="5" height="5" transform="rotate(0 1314.4 521)"/>
</g>
<g class="d">
<text transform="translate(41 237) rotate(-90) scale(.9 1)" y="2.4">3.82</text>
<text transform="translate(106 228) rotate(-90) scale(.9 1)" y="2.4">4.73</text>
<text transform="translate(148 197.4) scale(.9 1)" y="2.4">6.90</text>
<text transform="translate(73.4 250.6) scale(.9 1)" y="2.4">6.80</text>
<text transform="translate(232.6 179.6) scale(.9 1)" y="2.4">6.95</text>
<text transform="translate(263.6 183) rotate(-90) scale(.9 1)" y="2.4">2.43</text>
<text transform="translate(287 170.6) scale(.9 1)" y="2.4">3.26</text>
<text transform="translate(200 215) rotate(-90) scale(.9 1)" y="2.4">6.01</text>
<text transform="translate(307 225) rotate(-90) scale(.9 1)" y="2.4">9.86</text>
<text transform="translate(129.6 266.6) rotate(-90) scale(.9 1)" y="2.4">12.77</text>
<text transform="translate(330 243) rotate(-90) scale(.9 1)" y="2.4">14.73</text>
<text transform="translate(232 272.4) scale(.9 1)" y="2.4">14.38</text>
<text transform="translate(369 157.4) scale(.9 1)" y="2.4">3.66</text>
<text transform="translate(358 186) rotate(-90) scale(.9 1)" y="2.4">5.96</text>
<text transform="translate(373 212.6) scale(.9 1)" y="2.4">3.90</text>
<text transform="translate(358 281.4) scale(.9 1)" y="2.4">6.66</text>
<text transform="translate(45.6 278) rotate(-90) scale(.9 1)" y="2.4">2.97</text>
<text transform="translate(179 291.8) scale(.9 1)" y="2.4">3.34</text>
<text transform="translate(154 302.5) rotate(-90) scale(.9 1)" y="2.4">4.62</text>
<text transform="translate(263.5 284.5) scale(.9 1)" y="2.4">6.37</text>
<text transform="translate(314 288.5) rotate(-90) scale(.9 1)" y="2.4">2.55</text>
<text transform="translate(287 318.5) rotate(-90) scale(.9 1)" y="2.4">1.60</text>
<text transform="translate(206.5 328.2) scale(.9 1)" y="2.4">3.32</text>
<text transform="translate(79.6 287) scale(.9 1)" y="2.4">2.97</text>
<text transform="translate(112.4 316) rotate(-90) scale(.9 1)" y="2.4">4.21</text>
<text transform="translate(81 338) scale(.9 1)" y="2.4">6.80</text>
<text transform="translate(142 333.4) scale(.9 1)" y="2.4">3.24</text>
<text transform="translate(52.4 386) rotate(-90) scale(.9 1)" y="2.4">5.51</text>
<text transform="translate(91.4 385.6) rotate(-90) scale(.9 1)" y="2.4">5.81</text>
<text transform="translate(134 377) rotate(-90) scale(.9 1)" y="2.4">5.84</text>
<text transform="translate(171 372) rotate(-90) scale(.9 1)" y="2.4">5.86</text>
<text transform="translate(234.4 363.6) rotate(-90) scale(.9 1)" y="2.4">5.84</text>
<text transform="translate(259.6 367) rotate(-90) scale(.9 1)" y="2.4">4.69</text>
<text transform="translate(294 362) rotate(-90) scale(.9 1)" y="2.4">5.74</text>
<text transform="translate(331.6 357) rotate(-90) scale(.9 1)" y="2.4">5.72</text>
<text transform="translate(375 354) rotate(-90) scale(.9 1)" y="2.4">5.66</text>
<text transform="translate(69 411) scale(.9 1)" y="2.4">3.47</text>
<text transform="translate(107.4 407) scale(.9 1)" y="2.4">3.59</text>
<text transform="translate(149 403.6) scale(.9 1)" y="2.4">3.83</text>
<text transform="translate(190 400) scale(.9 1)" y="2.4">3.68</text>
<text transform="translate(225.6 395.6) scale(.9 1)" y="2.4">2.95</text>
<text transform="translate(271 391) scale(.9 1)" y="2.4">2.93</text>
<text transform="translate(310.6 388) scale(.9 1)" y="2.4">3.57</text>
<text transform="translate(348 385.4) scale(.9 1)" y="2.4">3.58</text>
<text transform="translate(65.6 449) rotate(-90) scale(.9 1)" y="2.4">18.35</text>
<text transform="translate(93 516) rotate(-90) scale(.9 1)" y="2.4">5.96</text>
<text transform="translate(131 512) rotate(-90) scale(.9 1)" y="2.4">5.98</text>
<text transform="translate(173 508) rotate(-90) scale(.9 1)" y="2.4">5.92</text>
<text transform="translate(212.4 507.6) rotate(-90) scale(.9 1)" y="2.4">6.02</text>
<text transform="translate(251.6 504.6) rotate(-90) scale(.9 1)" y="2.4">5.99</text>
<text transform="translate(294 500) rotate(-90) scale(.9 1)" y="2.4">5.99</text>
<text transform="translate(81 548.4) scale(.9 1)" y="2.4">3.44</text>
<text transform="translate(122 544.6) scale(.9 1)" y="2.4">3.66</text>
<text transform="translate(160 540.6) scale(.9 1)" y="2.4">3.58</text>
<text transform="translate(200 537) scale(.9 1)" y="2.4">3.60</text>
<text transform="translate(240.6 533.6) scale(.9 1)" y="2.4">3.68</text>
<text transform="translate(279.6 530) scale(.9 1)" y="2.4">3.82</text>
<text transform="translate(234.6 563) rotate(-90) scale(.9 1)" y="2.4">3.93</text>
<text transform="translate(297.6 559) rotate(-90) scale(.9 1)" y="2.4">4.46</text>
<text transform="translate(389.4 252) rotate(-90) scale(.9 1)" y="2.4">15.35</text>
<text transform="translate(418 256.4) scale(.9 1)" y="2.4">3.26</text>
<text transform="translate(408.4 285.6) rotate(-90) scale(.9 1)" y="2.4">5.85</text>
<text transform="translate(482.6 306) scale(.9 1)" y="2.4">8.62</text>
<text transform="translate(509.6 274) rotate(-90) scale(.9 1)" y="2.4">6.86</text>
<text transform="translate(490.6 333) scale(.9 1)" y="2.4">71.31</text>
<text transform="translate(414.4 352) rotate(-90) scale(.9 1)" y="2.4">5.70</text>
<text transform="translate(384 382.4) scale(.9 1)" y="2.4">3.49</text>
<text transform="translate(426 378.6) scale(.9 1)" y="2.4">3.41</text>
<text transform="translate(552.6 344) rotate(-90) scale(.9 1)" y="2.4">5.75</text>
<text transform="translate(543 371) scale(.9 1)" y="2.4">2.95</text>
<text transform="translate(587.6 332) scale(.9 1)" y="2.4">2.95</text>
<text transform="translate(577.4 349) rotate(-90) scale(.9 1)" y="2.4">4.71</text>
<text transform="translate(612 346) rotate(-90) scale(.9 1)" y="2.4">5.73</text>
<text transform="translate(626.6 322.4) scale(.9 1)" y="2.4">3.59</text>
<text transform="translate(649.4 344) rotate(-90) scale(.9 1)" y="2.4">5.75</text>
<text transform="translate(664 370) scale(.9 1)" y="2.4">3.59</text>
<text transform="translate(581.5 240.2) scale(.9 1)" y="2.4">11.04</text>
<text transform="translate(624.8 250.8) scale(.9 1)" y="2.4">2.61</text>
<text transform="translate(537 265.3) scale(.9 1)" y="2.4">2.35</text>
<text transform="translate(554.5 267.8) rotate(-90) scale(.9 1)" y="2.4">3.71</text>
<text transform="translate(579 284.8) scale(.9 1)" y="2.4">5.28</text>
<text transform="translate(617.5 300) rotate(-90) scale(.9 1)" y="2.4">5.57</text>
<text transform="translate(661.5 253.5) rotate(-90) scale(.9 1)" y="2.4">6.01</text>
<text transform="translate(668.5 299.2) scale(.9 1)" y="2.4">2.22</text>
<text transform="translate(689 269.5) rotate(-90) scale(.9 1)" y="2.4">5.96</text>
<text transform="translate(415 150) scale(.9 1)" y="2.4">3.57</text>
<text transform="translate(453.4 146) scale(.9 1)" y="2.4">3.46</text>
<text transform="translate(538 135) scale(.9 1)" y="2.4">3.46</text>
<text transform="translate(575.6 131.6) scale(.9 1)" y="2.4">3.44</text>
<text transform="translate(618 126.6) scale(.9 1)" y="2.4">3.45</text>
<text transform="translate(655 123) scale(.9 1)" y="2.4">3.42</text>
<text transform="translate(697.6 121) scale(.9 1)" y="2.4">3.44</text>
<text transform="translate(402 178) rotate(-90) scale(.9 1)" y="2.4">6.05</text>
<text transform="translate(441.4 174) rotate(-90) scale(.9 1)" y="2.4">5.98</text>
<text transform="translate(482.4 164) rotate(-90) scale(.9 1)" y="2.4">6.01</text>
<text transform="translate(510 159) rotate(-90) scale(.9 1)" y="2.4">5.97</text>
<text transform="translate(524.4 161.4) rotate(-90) scale(.9 1)" y="2.4">6.03</text>
<text transform="translate(563.6 156) rotate(-90) scale(.9 1)" y="2.4">6.00</text>
<text transform="translate(604 152) rotate(-90) scale(.9 1)" y="2.4">5.99</text>
<text transform="translate(644 150) rotate(-90) scale(.9 1)" y="2.4">6.00</text>
<text transform="translate(685.6 146.6) rotate(-90) scale(.9 1)" y="2.4">5.92</text>
<text transform="translate(417 205) scale(.9 1)" y="2.4">3.76</text>
<text transform="translate(460 201) scale(.9 1)" y="2.4">3.70</text>
<text transform="translate(499.4 192.6) scale(.9 1)" y="2.4">3.67</text>
<text transform="translate(735 118) scale(.9 1)" y="2.4">3.60</text>
<text transform="translate(783 114.4) scale(.9 1)" y="2.4">3.63</text>
<text transform="translate(861.4 112.4) scale(.9 1)" y="2.4">3.00</text>
<text transform="translate(902 111.4) scale(.9 1)" y="2.4">3.46</text>
<text transform="translate(943 110) scale(.9 1)" y="2.4">3.46</text>
<text transform="translate(983 108.4) scale(.9 1)" y="2.4">3.47</text>
<text transform="translate(1019.4 108.6) scale(.9 1)" y="2.4">3.44</text>
<text transform="translate(1062.6 109) scale(.9 1)" y="2.4">3.49</text>
<text transform="translate(721 146) rotate(-90) scale(.9 1)" y="2.4">5.92</text>
<text transform="translate(768 145) rotate(-90) scale(.9 1)" y="2.4">6.00</text>
<text transform="translate(809 141) rotate(-90) scale(.9 1)" y="2.4">6.00</text>
<text transform="translate(851 139) rotate(-90) scale(.9 1)" y="2.4">5.92</text>
<text transform="translate(892.4 134) rotate(-90) scale(.9 1)" y="2.4">5.97</text>
<text transform="translate(931.6 133) rotate(-90) scale(.9 1)" y="2.4">5.97</text>
<text transform="translate(996.6 138) rotate(-90) scale(.9 1)" y="2.4">5.99</text>
<text transform="translate(1008 138) rotate(-90) scale(.9 1)" y="2.4">5.99</text>
<text transform="translate(1051 133) rotate(-90) scale(.9 1)" y="2.4">5.99</text>
<text transform="translate(1089 133.6) rotate(-90) scale(.9 1)" y="2.4">5.98</text>
<text transform="translate(824.6 166.6) scale(.9 1)" y="2.4">3.43</text>
<text transform="translate(746.4 201) rotate(-90) scale(.9 1)" y="2.4">17.39</text>
<text transform="translate(775 200) rotate(-90) scale(.9 1)" y="2.4">17.41</text>
<text transform="translate(1097 203) rotate(-90) scale(.9 1)" y="2.4">17.90</text>
<text transform="translate(1106 109) scale(.9 1)" y="2.4">3.67</text>
<text transform="translate(1152 112.4) scale(.9 1)" y="2.4">3.66</text>
<text transform="translate(1189 113.6) scale(.9 1)" y="2.4">3.45</text>
<text transform="translate(1232 116.6) scale(.9 1)" y="2.4">3.30</text>
<text transform="translate(1273 118.4) scale(.9 1)" y="2.4">3.43</text>
<text transform="translate(1308 122) scale(.9 1)" y="2.4">5.99</text>
<text transform="translate(1432.6 131) scale(.9 1)" y="2.4">3.44</text>
<text transform="translate(1473 135) scale(.9 1)" y="2.4">3.59</text>
<text transform="translate(1139 135) rotate(-90) scale(.9 1)" y="2.4">6.00</text>
<text transform="translate(1179 139) rotate(-90) scale(.9 1)" y="2.4">6.00</text>
<text transform="translate(1218 140) rotate(-90) scale(.9 1)" y="2.4">5.85</text>
<text transform="translate(1285.6 144) rotate(-90) scale(.9 1)" y="2.4">6.01</text>
<text transform="translate(1296 145) rotate(-90) scale(.9 1)" y="2.4">6.01</text>
<text transform="translate(1339 147) rotate(-90) scale(.9 1)" y="2.4">5.98</text>
<text transform="translate(1378.6 151) rotate(-90) scale(.9 1)" y="2.4">5.99</text>
<text transform="translate(1419.4 156) rotate(-90) scale(.9 1)" y="2.4">5.95</text>
<text transform="translate(1456.6 160) rotate(-90) scale(.9 1)" y="2.4">5.96</text>
<text transform="translate(1348 181.4) scale(.9 1)" y="2.4">3.62</text>
<text transform="translate(1388 184.4) scale(.9 1)" y="2.4">3.66</text>
<text transform="translate(1151.6 204) rotate(-90) scale(.9 1)" y="2.4">17.88</text>
<text transform="translate(1501.6 165.6) rotate(-90) scale(.9 1)" y="2.4">5.84</text>
<text transform="translate(1545.6 168) rotate(-90) scale(.9 1)" y="2.4">5.84</text>
<text transform="translate(1611 176) rotate(-90) scale(.9 1)" y="2.4">5.86</text>
<text transform="translate(1626 185) rotate(-90) scale(.9 1)" y="2.4">6.76</text>
<text transform="translate(1688.6 196) rotate(-90) scale(.9 1)" y="2.4">6.52</text>
<text transform="translate(1720 176.4) scale(.9 1)" y="2.4">3.29</text>
<text transform="translate(1512 193.6) scale(.9 1)" y="2.4">3.69</text>
<text transform="translate(1556.6 199.4) scale(.9 1)" y="2.4">3.60</text>
<text transform="translate(1595.4 205) scale(.9 1)" y="2.4">3.45</text>
<text transform="translate(1657.4 215) scale(.9 1)" y="2.4">6.02</text>
<text transform="translate(1725.4 216) rotate(-90) scale(.9 1)" y="2.4">9.92</text>
<text transform="translate(1743.6 213) rotate(-90) scale(.9 1)" y="2.4">3.86</text>
<text transform="translate(1806.6 218) rotate(-90) scale(.9 1)" y="2.4">3.21</text>
<text transform="translate(1776.6 229.4) scale(.9 1)" y="2.4">6.90</text>
<text transform="translate(1763.4 247) scale(.9 1)" y="2.4">10.47</text>
<text transform="translate(1476.6 222) rotate(-90) scale(.9 1)" y="2.4">16.62</text>
<text transform="translate(1501.6 220) rotate(-90) scale(.9 1)" y="2.4">16.86</text>
<text transform="translate(1599.4 237) rotate(-90) scale(.9 1)" y="2.4">10.28</text>
<text transform="translate(728 268.4) rotate(-90) scale(.9 1)" y="2.4">5.98</text>
<text transform="translate(770 272) rotate(-90) scale(.9 1)" y="2.4">5.90</text>
<text transform="translate(785 256) scale(.9 1)" y="2.4">3.47</text>
<text transform="translate(822 257.6) scale(.9 1)" y="2.4">3.65</text>
<text transform="translate(833 274) rotate(-90) scale(.9 1)" y="2.4">5.86</text>
<text transform="translate(876 274) rotate(-90) scale(.9 1)" y="2.4">5.86</text>
<text transform="translate(707.4 298.6) scale(.9 1)" y="2.4">3.43</text>
<text transform="translate(748.6 298) scale(.9 1)" y="2.4">3.41</text>
<text transform="translate(861 297) scale(.9 1)" y="2.4">3.47</text>
<text transform="translate(693.6 343) rotate(-90) scale(.9 1)" y="2.4">5.73</text>
<text transform="translate(729 339) rotate(-90) scale(.9 1)" y="2.4">5.72</text>
<text transform="translate(796.6 336) rotate(-90) scale(.9 1)" y="2.4">5.80</text>
<text transform="translate(833 336) rotate(-90) scale(.9 1)" y="2.4">5.80</text>
<text transform="translate(855 338) rotate(-90) scale(.9 1)" y="2.4">5.76</text>
<text transform="translate(915.6 339) rotate(-90) scale(.9 1)" y="2.4">5.77</text>
<text transform="translate(952 343) rotate(-90) scale(.9 1)" y="2.4">4.64</text>
<text transform="translate(976 342) rotate(-90) scale(.9 1)" y="2.4">4.72</text>
<text transform="translate(1012 338) rotate(-90) scale(.9 1)" y="2.4">5.66</text>
<text transform="translate(948.5 231.5) scale(.9 1)" y="2.4">31.91</text>
<text transform="translate(922 254.5) rotate(-90) scale(.9 1)" y="2.4">3.70</text>
<text transform="translate(946.5 276.8) scale(.9 1)" y="2.4">4.82</text>
<text transform="translate(978.5 248) rotate(-90) scale(.9 1)" y="2.4">6.04</text>
<text transform="translate(991 247) scale(.9 1)" y="2.4">2.61</text>
<text transform="translate(1032 250.5) scale(.9 1)" y="2.4">2.16</text>
<text transform="translate(1037.5 285) rotate(-90) scale(.9 1)" y="2.4">5.65</text>
<text transform="translate(1051 267.5) rotate(-90) scale(.9 1)" y="2.4">5.04</text>
<text transform="translate(1118 269) rotate(-90) scale(.9 1)" y="2.4">5.94</text>
<text transform="translate(1133 268) rotate(-90) scale(.9 1)" y="2.4">5.93</text>
<text transform="translate(1067 299.4) scale(.9 1)" y="2.4">3.45</text>
<text transform="translate(1103 298.6) scale(.9 1)" y="2.4">3.48</text>
<text transform="translate(1144 300) scale(.9 1)" y="2.4">3.32</text>
<text transform="translate(1225 275) rotate(-90) scale(.9 1)" y="2.4">5.87</text>
<text transform="translate(1311.6 235.6) scale(.9 1)" y="2.4">31.92</text>
<text transform="translate(1204 325.4) scale(.9 1)" y="2.4">85.72</text>
<text transform="translate(1053 339) rotate(-90) scale(.9 1)" y="2.4">5.66</text>
<text transform="translate(1092.6 340) rotate(-90) scale(.9 1)" y="2.4">5.70</text>
<text transform="translate(1133 341) rotate(-90) scale(.9 1)" y="2.4">5.70</text>
<text transform="translate(1270 351) rotate(-90) scale(.9 1)" y="2.4">4.75</text>
<text transform="translate(1293 353) rotate(-90) scale(.9 1)" y="2.4">4.73</text>
<text transform="translate(1331 350) rotate(-90) scale(.9 1)" y="2.4">5.76</text>
<text transform="translate(1367 351) rotate(-90) scale(.9 1)" y="2.4">5.75</text>
<text transform="translate(1410 349) rotate(-90) scale(.9 1)" y="2.4">5.73</text>
<text transform="translate(1283.5 270) rotate(-90) scale(.9 1)" y="2.4">3.74</text>
<text transform="translate(1303.5 286.5) scale(.9 1)" y="2.4">4.89</text>
<text transform="translate(1353.5 257.5) scale(.9 1)" y="2.4">2.62</text>
<text transform="translate(1393 260) scale(.9 1)" y="2.4">2.16</text>
<text transform="translate(1384.5 286) rotate(-90) scale(.9 1)" y="2.4">5.66</text>
<text transform="translate(1411 286) rotate(-90) scale(.9 1)" y="2.4">5.95</text>
<text transform="translate(1340 305) rotate(-90) scale(.9 1)" y="2.4">5.66</text>
<text transform="translate(1467 269) scale(.9 1)" y="2.4">3.40</text>
<text transform="translate(1509.4 269.4) scale(.9 1)" y="2.4">3.63</text>
<text transform="translate(1549 273.6) scale(.9 1)" y="2.4">3.43</text>
<text transform="translate(1581 275.4) scale(.9 1)" y="2.4">2.45</text>
<text transform="translate(1450.6 287) rotate(-90) scale(.9 1)" y="2.4">5.86</text>
<text transform="translate(1492 289) rotate(-90) scale(.9 1)" y="2.4">5.84</text>
<text transform="translate(1533.6 293) rotate(-90) scale(.9 1)" y="2.4">5.84</text>
<text transform="translate(1588 292) rotate(-90) scale(.9 1)" y="2.4">5.79</text>
<text transform="translate(1425.6 313) scale(.9 1)" y="2.4">3.48</text>
<text transform="translate(1648 262) scale(.9 1)" y="2.4">7.13</text>
<text transform="translate(1683 254) rotate(-90) scale(.9 1)" y="2.4">3.56</text>
<text transform="translate(1614 275) rotate(-90) scale(.9 1)" y="2.4">6.60</text>
<text transform="translate(1694.6 295) rotate(-90) scale(.9 1)" y="2.4">3.70</text>
<text transform="translate(1669 308.6) scale(.9 1)" y="2.4">6.36</text>
<text transform="translate(1621.4 323.6) scale(.9 1)" y="2.4">2.62</text>
<text transform="translate(1707.6 345) scale(.9 1)" y="2.4">2.88</text>
<text transform="translate(1448 351) rotate(-90) scale(.9 1)" y="2.4">5.66</text>
<text transform="translate(1490.6 357) rotate(-90) scale(.9 1)" y="2.4">5.88</text>
<text transform="translate(1527.6 358) rotate(-90) scale(.9 1)" y="2.4">5.85</text>
<text transform="translate(1568.6 364) rotate(-90) scale(.9 1)" y="2.4">5.76</text>
<text transform="translate(1633 368) rotate(-90) scale(.9 1)" y="2.4">5.76</text>
<text transform="translate(1691.4 373) rotate(-90) scale(.9 1)" y="2.4">5.60</text>
<text transform="translate(1746 286) scale(.9 1)" y="2.4">3.30</text>
<text transform="translate(1736 306) rotate(-90) scale(.9 1)" y="2.4">5.45</text>
<text transform="translate(1783.6 317) scale(.9 1)" y="2.4">3.31</text>
<text transform="translate(1801 303) rotate(-90) scale(.9 1)" y="2.4">3.64</text>
<text transform="translate(1770.6 335) rotate(-90) scale(.9 1)" y="2.4">1.47</text>
<text transform="translate(1728 375) rotate(-90) scale(.9 1)" y="2.4">5.56</text>
<text transform="translate(1794 379) rotate(-90) scale(.9 1)" y="2.4">5.68</text>
<text transform="translate(1739.4 402.6) scale(.9 1)" y="2.4">3.57</text>
<text transform="translate(1778 408) scale(.9 1)" y="2.4">3.45</text>
<text transform="translate(1668.6 376) rotate(-90) scale(.9 1)" y="2.4">4.60</text>
<text transform="translate(1657.6 393.6) scale(.9 1)" y="2.4">2.95</text>
<text transform="translate(703 368.6) scale(.9 1)" y="2.4">3.34</text>
<text transform="translate(743.4 366) scale(.9 1)" y="2.4">3.35</text>
<text transform="translate(785 364) scale(.9 1)" y="2.4">3.54</text>
<text transform="translate(821 364.4) scale(.9 1)" y="2.4">3.12</text>
<text transform="translate(865 365) scale(.9 1)" y="2.4">3.80</text>
<text transform="translate(825 415) rotate(-90) scale(.9 1)" y="2.4">18.22</text>
<text transform="translate(871 408) rotate(-90) scale(.9 1)" y="2.4">18.15</text>
<text transform="translate(575 482) scale(.9 1)" y="2.4">69.77</text>
<text transform="translate(523 485) rotate(-90) scale(.9 1)" y="2.4">6.02</text>
<text transform="translate(641.6 481) rotate(-90) scale(.9 1)" y="2.4">5.95</text>
<text transform="translate(655.6 481) rotate(-90) scale(.9 1)" y="2.4">5.96</text>
<text transform="translate(723 477) rotate(-90) scale(.9 1)" y="2.4">5.75</text>
<text transform="translate(761 475) rotate(-90) scale(.9 1)" y="2.4">5.74</text>
<text transform="translate(817 495) scale(.9 1)" y="2.4">4.90</text>
<text transform="translate(877 496) scale(.9 1)" y="2.4">4.93</text>
<text transform="translate(905 365.4) scale(.9 1)" y="2.4">3.62</text>
<text transform="translate(941 364) scale(.9 1)" y="2.4">2.91</text>
<text transform="translate(988 364.6) scale(.9 1)" y="2.4">2.90</text>
<text transform="translate(1027.6 364.6) scale(.9 1)" y="2.4">3.62</text>
<text transform="translate(1067.6 364) scale(.9 1)" y="2.4">2.19</text>
<text transform="translate(1105 363.6) scale(.9 1)" y="2.4">3.46</text>
<text transform="translate(1145 365.4) scale(.9 1)" y="2.4">3.61</text>
<text transform="translate(985.4 453.4) scale(.9 1)" y="2.4">3.54</text>
<text transform="translate(1023 453.4) scale(.9 1)" y="2.4">3.60</text>
<text transform="translate(956 474) rotate(-90) scale(.9 1)" y="2.4">5.74</text>
<text transform="translate(997.6 477) rotate(-90) scale(.9 1)" y="2.4">5.74</text>
<text transform="translate(1038 476) rotate(-90) scale(.9 1)" y="2.4">5.99</text>
<text transform="translate(1077.6 477) rotate(-90) scale(.9 1)" y="2.4">5.99</text>
<text transform="translate(1190 479) rotate(-90) scale(.9 1)" y="2.4">6.06</text>
<text transform="translate(1230 482) rotate(-90) scale(.9 1)" y="2.4">6.06</text>
<text transform="translate(1259.4 370.4) scale(.9 1)" y="2.4">2.90</text>
<text transform="translate(1304.6 372) scale(.9 1)" y="2.4">2.89</text>
<text transform="translate(1341.4 374) scale(.9 1)" y="2.4">3.61</text>
<text transform="translate(1383.6 374.4) scale(.9 1)" y="2.4">3.53</text>
<text transform="translate(1421.4 376.4) scale(.9 1)" y="2.4">3.68</text>
<text transform="translate(1459.4 379) scale(.9 1)" y="2.4">3.46</text>
<text transform="translate(1500 382) scale(.9 1)" y="2.4">3.50</text>
<text transform="translate(1539 385) scale(.9 1)" y="2.4">3.56</text>
<text transform="translate(1580.6 387.6) scale(.9 1)" y="2.4">3.66</text>
<text transform="translate(1351 488) rotate(-90) scale(.9 1)" y="2.4">5.97</text>
<text transform="translate(1362.4 488) rotate(-90) scale(.9 1)" y="2.4">5.97</text>
<text transform="translate(1432 494) rotate(-90) scale(.9 1)" y="2.4">5.96</text>
<text transform="translate(1442 494) rotate(-90) scale(.9 1)" y="2.4">5.96</text>
<text transform="translate(1505 496) rotate(-90) scale(.9 1)" y="2.4">5.99</text>
<text transform="translate(1619 391) scale(.9 1)" y="2.4">3.60</text>
<text transform="translate(1782.4 443.6) rotate(-90) scale(.9 1)" y="2.4">18.42</text>
<text transform="translate(1542.4 499) rotate(-90) scale(.9 1)" y="2.4">5.99</text>
<text transform="translate(1583.6 504) rotate(-90) scale(.9 1)" y="2.4">6.00</text>
<text transform="translate(1624.6 507) rotate(-90) scale(.9 1)" y="2.4">6.00</text>
<text transform="translate(1663.6 511) rotate(-90) scale(.9 1)" y="2.4">5.98</text>
<text transform="translate(1673.4 511) rotate(-90) scale(.9 1)" y="2.4">5.98</text>
<text transform="translate(1743 515) rotate(-90) scale(.9 1)" y="2.4">5.98</text>
<text transform="translate(1784.6 520) rotate(-90) scale(.9 1)" y="2.4">5.99</text>
<text transform="translate(191 576) rotate(-90) scale(.9 1)" y="2.4">6.26</text>
<text transform="translate(264 578) scale(.9 1)" y="2.4">7.25</text>
<text transform="translate(207 605.4) scale(.9 1)" y="2.4">3.54</text>
<text transform="translate(283 598) rotate(-90) scale(.9 1)" y="2.4">2.21</text>
<text transform="translate(317.6 598) rotate(-90) scale(.9 1)" y="2.4">2.89</text>
<text transform="translate(206 620.6) scale(.9 1)" y="2.4">3.17</text>
<text transform="translate(225 651) rotate(-90) scale(.9 1)" y="2.4">7.01</text>
<text transform="translate(289 631) rotate(-90) scale(.9 1)" y="2.4">3.40</text>
<text transform="translate(266.6 646.6) scale(.9 1)" y="2.4">5.97</text>
<text transform="translate(292.6 670) rotate(-90) scale(.9 1)" y="2.4">3.80</text>
<text transform="translate(269.4 687.6) scale(.9 1)" y="2.4">5.97</text>
<text transform="translate(418 550.4) scale(.9 1)" y="2.4">6.34</text>
<text transform="translate(442 568) rotate(-90) scale(.9 1)" y="2.4">2.98</text>
<text transform="translate(418 582.6) scale(.9 1)" y="2.4">6.34</text>
<text transform="translate(487 562) rotate(-90) scale(.9 1)" y="2.4">7.97</text>
<text transform="translate(501 562) rotate(-90) scale(.9 1)" y="2.4">7.96</text>
<text transform="translate(524 554) rotate(-90) scale(.9 1)" y="2.4">6.69</text>
<text transform="translate(477.6 606) scale(.9 1)" y="2.4">3.54</text>
<text transform="translate(393.6 629) rotate(-90) scale(.9 1)" y="2.4">3.29</text>
<text transform="translate(462 635) rotate(-90) scale(.9 1)" y="2.4">3.28</text>
<text transform="translate(421 645) scale(.9 1)" y="2.4">6.02</text>
<text transform="translate(486 647.4) scale(.9 1)" y="2.4">6.02</text>
<text transform="translate(396 673) rotate(-90) scale(.9 1)" y="2.4">3.69</text>
<text transform="translate(513 671) rotate(-90) scale(.9 1)" y="2.4">3.67</text>
<text transform="translate(423 688.4) scale(.9 1)" y="2.4">6.02</text>
<text transform="translate(486 688) scale(.9 1)" y="2.4">6.02</text>
<text transform="translate(407 492) rotate(-90) scale(.9 1)" y="2.4">6.01</text>
<text transform="translate(444 492) rotate(-90) scale(.9 1)" y="2.4">6.01</text>
<text transform="translate(481 487) rotate(-90) scale(.9 1)" y="2.4">6.02</text>
<text transform="translate(402.6 521.6) scale(.9 1)" y="2.4">3.27</text>
<text transform="translate(433 519.4) scale(.9 1)" y="2.4">3.28</text>
<text transform="translate(473.6 517) scale(.9 1)" y="2.4">3.60</text>
<text transform="translate(513.6 513.4) scale(.9 1)" y="2.4">3.60</text>
<text transform="translate(391 542) rotate(-90) scale(.9 1)" y="2.4">2.58</text>
<text transform="translate(511 539.6) scale(.9 1)" y="2.4">3.63</text>
<text transform="translate(633 510) scale(.9 1)" y="2.4">3.56</text>
<text transform="translate(671.4 507) scale(.9 1)" y="2.4">3.53</text>
<text transform="translate(711 506) scale(.9 1)" y="2.4">3.62</text>
<text transform="translate(623 532) rotate(-90) scale(.9 1)" y="2.4">3.76</text>
<text transform="translate(653 552.6) scale(.9 1)" y="2.4">7.20</text>
<text transform="translate(703 560) rotate(-90) scale(.9 1)" y="2.4">8.71</text>
<text transform="translate(623 584) rotate(-90) scale(.9 1)" y="2.4">4.70</text>
<text transform="translate(652.6 607) scale(.9 1)" y="2.4">7.20</text>
<text transform="translate(629.4 652) rotate(-90) scale(.9 1)" y="2.4">7.08</text>
<text transform="translate(658 683.4) scale(.9 1)" y="2.4">6.92</text>
<text transform="translate(564.6 688) scale(.9 1)" y="2.4">34.42</text>
<text transform="translate(749.9 504.4) scale(.9 1)" y="2.4">3.23</text>
<text transform="translate(734.4 519.6) scale(.9 1)" y="2.4">7.97</text>
<text transform="translate(941.7 503.6) scale(.9 1)" y="2.4">3.55</text>
<text transform="translate(958.7 522.7) scale(.9 1)" y="2.4">8.76</text>
<text transform="translate(987.5 555.4) rotate(-90) scale(.9 1)" y="2.4">6.96</text>
<text transform="translate(1012.4 531.9) rotate(-90) scale(.9 1)" y="2.4">3.76</text>
<text transform="translate(1015 586.3) rotate(-90) scale(.9 1)" y="2.4">5.23</text>
<text transform="translate(1042.5 549.7) scale(.9 1)" y="2.4">6.96</text>
<text transform="translate(1042.5 605.2) scale(.9 1)" y="2.4">6.96</text>
<text transform="translate(1041.2 624) scale(.9 1)" y="2.4">6.91</text>
<text transform="translate(1075 657) rotate(-90) scale(.9 1)" y="2.4">7.06</text>
<text transform="translate(1094.6 656) rotate(-90) scale(.9 1)" y="2.4">7.29</text>
<text transform="translate(1190 558.6) scale(.9 1)" y="2.4">7.93</text>
<text transform="translate(1227.6 573) rotate(-90) scale(.9 1)" y="2.4">2.96</text>
<text transform="translate(1195 583.6) scale(.9 1)" y="2.4">7.02</text>
<text transform="translate(1225 633) rotate(-90) scale(.9 1)" y="2.4">3.40</text>
<text transform="translate(1202 648.6) scale(.9 1)" y="2.4">5.70</text>
<text transform="translate(1200 658.6) scale(.9 1)" y="2.4">5.70</text>
<text transform="translate(1172.4 676) rotate(-90) scale(.9 1)" y="2.4">3.62</text>
<text transform="translate(1265 658) rotate(-90) scale(.9 1)" y="2.4">5.98</text>
<text transform="translate(1303.4 659) rotate(-90) scale(.9 1)" y="2.4">5.98</text>
<text transform="translate(1250 685.6) scale(.9 1)" y="2.4">3.56</text>
<text transform="translate(1289.4 685) scale(.9 1)" y="2.4">3.81</text>
<text transform="translate(1355 684.4) scale(.9 1)" y="2.4">6.90</text>
<text transform="translate(1355 559.4) scale(.9 1)" y="2.4">7.06</text>
<text transform="translate(1336.6 591.6) scale(.9 1)" y="2.4">5.48</text>
<text transform="translate(1065 504) scale(.9 1)" y="2.4">3.56</text>
<text transform="translate(1120 522) scale(.9 1)" y="2.4">12.25</text>
<text transform="translate(1176 507) scale(.9 1)" y="2.4">3.57</text>
<text transform="translate(1213.4 510.4) scale(.9 1)" y="2.4">3.58</text>
<text transform="translate(1201 521) scale(.9 1)" y="2.4">7.93</text>
<text transform="translate(1229 539) rotate(-90) scale(.9 1)" y="2.4">3.49</text>
<text transform="translate(1277 517.4) scale(.9 1)" y="2.4">6.72</text>
<text transform="translate(1335.6 515) scale(.9 1)" y="2.4">3.54</text>
<text transform="translate(1375 516.6) scale(.9 1)" y="2.4">3.53</text>
<text transform="translate(1414 518) scale(.9 1)" y="2.4">3.66</text>
<text transform="translate(1353.6 527.4) scale(.9 1)" y="2.4">7.06</text>
<text transform="translate(1339.4 539) rotate(-90) scale(.9 1)" y="2.4">2.92</text>
<text transform="translate(1385 573) rotate(-90) scale(.9 1)" y="2.4">2.78</text>
<text transform="translate(1452.6 519.4) scale(.9 1)" y="2.4">3.27</text>
<text transform="translate(1489.5 524.2) scale(.9 1)" y="2.4">3.25</text>
<text transform="translate(1525.7 526.9) scale(.9 1)" y="2.4">3.66</text>
<text transform="translate(1569.3 529.9) scale(.9 1)" y="2.4">3.69</text>
<text transform="translate(1605.9 532.4) scale(.9 1)" y="2.4">3.66</text>
<text transform="translate(1647.3 537.9) scale(.9 1)" y="2.4">3.54</text>
<text transform="translate(1385.3 600.5) rotate(-90) scale(.9 1)" y="2.4">2.19</text>
<text transform="translate(1383 652.8) rotate(-90) scale(.9 1)" y="2.4">6.99</text>
<text transform="translate(1686.6 540.4) scale(.9 1)" y="2.4">3.65</text>
<text transform="translate(1727 543.6) scale(.9 1)" y="2.4">3.62</text>
<text transform="translate(1766 547.4) scale(.9 1)" y="2.4">3.45</text>
<text transform="translate(1802.6 260.4) rotate(-90) scale(.9 1)" y="2.4">3.33</text>
</g>
<g class="r">
<g transform="translate(73 228) scale(.8 1)"><text y="-0.9">76</text><line class="ru" x1="-6.4" x2="6.4"/><text y="7">29.1</text></g>
<g transform="translate(178 250.6) scale(.8 1)"><text y="-0.9">77</text><line class="ru" x1="-6.4" x2="6.4"/><text y="7">192.9</text></g>
<g transform="translate(356 250.6) scale(.8 1)"><text y="-0.9">67</text><line class="ru" x1="-6.4" x2="6.4"/><text y="7">80.4</text></g>
<g transform="translate(372 184.4) scale(.8 1)"><text y="-0.9">78</text><line class="ru" x1="-6.4" x2="6.4"/><text y="7">22.2</text></g>
<g transform="translate(187.8 305.5) scale(.8 1)"><text y="-0.9">74</text><line class="ru" x1="-6.4" x2="6.4"/><text y="7">13.1</text></g>
<text transform="translate(248.5 285.5) scale(.8 1)" y="3.1">70</text>
<g transform="translate(243 301.5) scale(.8 1)"><text y="-0.9">71</text><line class="ru" x1="-6.4" x2="6.4"/><text y="7">2.8</text></g>
<g transform="translate(266 314) scale(.8 1)"><text y="-0.9">69</text><line class="ru" x1="-6.4" x2="6.4"/><text y="7">18.3</text></g>
<g transform="translate(232.5 322) scale(.8 1)"><text y="-0.9">73</text><line class="ru" x1="-6.4" x2="6.4"/><text y="7">2.2</text></g>
<g transform="translate(250 321.5) scale(.8 1)"><text y="-0.9">72</text><line class="ru" x1="-6.4" x2="6.4"/><text y="7">1.9</text></g>
<g transform="translate(307.5 317) scale(.8 1)"><text y="-0.9">68</text><line class="ru" x1="-6.4" x2="6.4"/><text y="7">3.8</text></g>
<text transform="translate(174.5 327.8) scale(.8 1)" y="3.1">77а</text>
<g transform="translate(81 321) scale(.8 1)"><text y="-0.9">75</text><line class="ru" x1="-6.4" x2="6.4"/><text y="7">28.6</text></g>
<g transform="translate(67.4 382.4) scale(.8 1)"><text y="-0.9">35</text><line class="ru" x1="-6.4" x2="6.4"/><text y="7">20.2</text></g>
<g transform="translate(106 381) scale(.8 1)"><text y="-0.9">36</text><line class="ru" x1="-6.4" x2="6.4"/><text y="7">20.6</text></g>
<g transform="translate(145.4 375.4) scale(.8 1)"><text y="-0.9">37</text><line class="ru" x1="-6.4" x2="6.4"/><text y="7">21.0</text></g>
<g transform="translate(186.6 371.4) scale(.8 1)"><text y="-0.9">38</text><line class="ru" x1="-6.4" x2="6.4"/><text y="7">20.8</text></g>
<g transform="translate(222.6 369.4) scale(.8 1)"><text y="-0.9">39</text><line class="ru" x1="-6.4" x2="6.4"/><text y="7">17.0</text></g>
<g transform="translate(270.4 370.6) scale(.8 1)"><text y="-0.9">40</text><line class="ru" x1="-6.4" x2="6.4"/><text y="7">13.6</text></g>
<g transform="translate(307 362) scale(.8 1)"><text y="-0.9">41</text><line class="ru" x1="-6.4" x2="6.4"/><text y="7">20.3</text></g>
<g transform="translate(346 359.4) scale(.8 1)"><text y="-0.9">42</text><line class="ru" x1="-6.4" x2="6.4"/><text y="7">20.3</text></g>
<g transform="translate(79 520.6) scale(.8 1)"><text y="-0.9">34</text><line class="ru" x1="-6.4" x2="6.4"/><text y="7">20.5</text></g>
<g transform="translate(118 517.4) scale(.8 1)"><text y="-0.9">33</text><line class="ru" x1="-6.4" x2="6.4"/><text y="7">21.9</text></g>
<g transform="translate(158 514) scale(.8 1)"><text y="-0.9">32</text><line class="ru" x1="-6.4" x2="6.4"/><text y="7">21.1</text></g>
<g transform="translate(198 510.6) scale(.8 1)"><text y="-0.9">30</text><line class="ru" x1="-6.4" x2="6.4"/><text y="7">21.5</text></g>
<g transform="translate(238 507.4) scale(.8 1)"><text y="-0.9">29</text><line class="ru" x1="-6.4" x2="6.4"/><text y="7">21.3</text></g>
<g transform="translate(278 504.4) scale(.8 1)"><text y="-0.9">28</text><line class="ru" x1="-6.4" x2="6.4"/><text y="7">22.8</text></g>
<g transform="translate(263.6 560) scale(.8 1)"><text y="-0.9">27</text><line class="ru" x1="-6.4" x2="6.4"/><text y="7">30.3</text></g>
<g transform="translate(420 285) scale(.8 1)"><text y="-0.9">66</text><line class="ru" x1="-6.4" x2="6.4"/><text y="7">19.4</text></g>
<g transform="translate(385.6 356.6) scale(.8 1)"><text y="-0.9">43</text><line class="ru" x1="-6.4" x2="6.4"/><text y="7">19.2</text></g>
<g transform="translate(425 353.4) scale(.8 1)"><text y="-0.9">44</text><line class="ru" x1="-6.4" x2="6.4"/><text y="7">18.9</text></g>
<g transform="translate(541 347.4) scale(.8 1)"><text y="-0.9">45</text><line class="ru" x1="-6.4" x2="6.4"/><text y="7">16.6</text></g>
<g transform="translate(587.4 351.6) scale(.8 1)"><text y="-0.9">46</text><line class="ru" x1="-6.4" x2="6.4"/><text y="7">13.7</text></g>
<g transform="translate(624.4 345.4) scale(.8 1)"><text y="-0.9">47</text><line class="ru" x1="-6.4" x2="6.4"/><text y="7">20.3</text></g>
<g transform="translate(666 345.4) scale(.8 1)"><text y="-0.9">48</text><line class="ru" x1="-6.4" x2="6.4"/><text y="7">20.2</text></g>
<g transform="translate(565 270.5) scale(.8 1)"><text y="-0.9">64</text><line class="ru" x1="-6.4" x2="6.4"/><text y="7">14.7</text></g>
<g transform="translate(537.8 304) scale(.8 1)"><text y="-0.9">65а</text><line class="ru" x1="-8.9" x2="8.9"/><text y="7">3.9</text></g>
<g transform="translate(561.5 302.8) scale(.8 1)"><text y="-0.9">63</text><line class="ru" x1="-6.4" x2="6.4"/><text y="7">1.9</text></g>
<g transform="translate(578 302.8) scale(.8 1)"><text y="-0.9">62</text><line class="ru" x1="-6.4" x2="6.4"/><text y="7">2.0</text></g>
<g transform="translate(599 302) scale(.8 1)"><text y="-0.9">61</text><line class="ru" x1="-6.4" x2="6.4"/><text y="7">3.2</text></g>
<g transform="translate(629.5 301) scale(.8 1)"><text y="-0.9">60</text><line class="ru" x1="-6.4" x2="6.4"/><text y="7">16.8</text></g>
<text transform="translate(649.5 290.5) scale(.8 1)" y="3.1">59</text>
<g transform="translate(667.5 275.5) scale(.8 1)"><text y="-0.9">58</text><line class="ru" x1="-6.4" x2="6.4"/><text y="7">13.1</text></g>
<g transform="translate(416.6 178.4) scale(.8 1)"><text y="-0.9">79</text><line class="ru" x1="-6.4" x2="6.4"/><text y="7">22.0</text></g>
<g transform="translate(457 173) scale(.8 1)"><text y="-0.9">80</text><line class="ru" x1="-6.4" x2="6.4"/><text y="7">20.8</text></g>
<g transform="translate(497.6 168.4) scale(.8 1)"><text y="-0.9">81</text><line class="ru" x1="-6.4" x2="6.4"/><text y="7">20.0</text></g>
<g transform="translate(538 163.4) scale(.8 1)"><text y="-0.9">82</text><line class="ru" x1="-6.4" x2="6.4"/><text y="7">20.6</text></g>
<g transform="translate(577 159.4) scale(.8 1)"><text y="-0.9">83</text><line class="ru" x1="-6.4" x2="6.4"/><text y="7">20.8</text></g>
<g transform="translate(617.4 155) scale(.8 1)"><text y="-0.9">84</text><line class="ru" x1="-6.4" x2="6.4"/><text y="7">20.8</text></g>
<g transform="translate(657 151.6) scale(.8 1)"><text y="-0.9">85</text><line class="ru" x1="-6.4" x2="6.4"/><text y="7">20.7</text></g>
<g transform="translate(697.6 148.4) scale(.8 1)"><text y="-0.9">86</text><line class="ru" x1="-6.4" x2="6.4"/><text y="7">20.5</text></g>
<g transform="translate(595 215) scale(.8 1)"><text y="-0.9">65</text><line class="ru" x1="-6.4" x2="6.4"/><text y="7">191.0</text></g>
<g transform="translate(736.4 143) scale(.8 1)"><text y="-0.9">87</text><line class="ru" x1="-6.4" x2="6.4"/><text y="7">21.3</text></g>
<g transform="translate(783 140) scale(.8 1)"><text y="-0.9">88</text><line class="ru" x1="-6.4" x2="6.4"/><text y="7">21.8</text></g>
<g transform="translate(823 139) scale(.8 1)"><text y="-0.9">89</text><line class="ru" x1="-6.4" x2="6.4"/><text y="7">20.6</text></g>
<g transform="translate(863.4 138) scale(.8 1)"><text y="-0.9">90</text><line class="ru" x1="-6.4" x2="6.4"/><text y="7">17.5</text></g>
<g transform="translate(904 136) scale(.8 1)"><text y="-0.9">91</text><line class="ru" x1="-6.4" x2="6.4"/><text y="7">20.6</text></g>
<g transform="translate(942.6 135.6) scale(.8 1)"><text y="-0.9">92</text><line class="ru" x1="-6.4" x2="6.4"/><text y="7">20.7</text></g>
<g transform="translate(984 135.6) scale(.8 1)"><text y="-0.9">93</text><line class="ru" x1="-6.4" x2="6.4"/><text y="7">20.6</text></g>
<g transform="translate(1022.6 135.6) scale(.8 1)"><text y="-0.9">94</text><line class="ru" x1="-6.4" x2="6.4"/><text y="7">20.7</text></g>
<g transform="translate(1063.6 136) scale(.8 1)"><text y="-0.9">95</text><line class="ru" x1="-6.4" x2="6.4"/><text y="7">21.0</text></g>
<g transform="translate(942.6 196) scale(.8 1)"><text y="-0.9">97</text><line class="ru" x1="-6.4" x2="6.4"/><text y="7">191.2</text></g>
<g transform="translate(1104.4 138.4) scale(.8 1)"><text y="-0.9">96</text><line class="ru" x1="-6.4" x2="6.4"/><text y="7">21.4</text></g>
<g transform="translate(1151 139) scale(.8 1)"><text y="-0.9">98</text><line class="ru" x1="-6.4" x2="6.4"/><text y="7">22.0</text></g>
<g transform="translate(1190.4 140) scale(.8 1)"><text y="-0.9">99</text><line class="ru" x1="-6.4" x2="6.4"/><text y="7">20.7</text></g>
<g transform="translate(1230.4 142) scale(.8 1)"><text y="-0.9">100</text><line class="ru" x1="-8.9" x2="8.9"/><text y="7">19.3</text></g>
<g transform="translate(1272 145) scale(.8 1)"><text y="-0.9">101</text><line class="ru" x1="-8.9" x2="8.9"/><text y="7">20.7</text></g>
<g transform="translate(1310 148) scale(.8 1)"><text y="-0.9">102</text><line class="ru" x1="-8.9" x2="8.9"/><text y="7">20.8</text></g>
<g transform="translate(1351.6 151.6) scale(.8 1)"><text y="-0.9">103</text><line class="ru" x1="-8.9" x2="8.9"/><text y="7">20.2</text></g>
<g transform="translate(1390 155) scale(.8 1)"><text y="-0.9">104</text><line class="ru" x1="-8.9" x2="8.9"/><text y="7">20.5</text></g>
<g transform="translate(1430.6 159) scale(.8 1)"><text y="-0.9">105</text><line class="ru" x1="-8.9" x2="8.9"/><text y="7">19.8</text></g>
<g transform="translate(1471.6 163) scale(.8 1)"><text y="-0.9">106</text><line class="ru" x1="-8.9" x2="8.9"/><text y="7">21.5</text></g>
<g transform="translate(1290 206) scale(.8 1)"><text y="-0.9">107</text><line class="ru" x1="-8.9" x2="8.9"/><text y="7">224.4</text></g>
<g transform="translate(1517.6 166.4) scale(.8 1)"><text y="-0.9">108</text><line class="ru" x1="-8.9" x2="8.9"/><text y="7">20.9</text></g>
<g transform="translate(1556.4 173) scale(.8 1)"><text y="-0.9">109</text><line class="ru" x1="-8.9" x2="8.9"/><text y="7">19.6</text></g>
<g transform="translate(1596.4 179) scale(.8 1)"><text y="-0.9">110</text><line class="ru" x1="-8.9" x2="8.9"/><text y="7">19.8</text></g>
<g transform="translate(1657 190) scale(.8 1)"><text y="-0.9">112</text><line class="ru" x1="-8.9" x2="8.9"/><text y="7">45.0</text></g>
<g transform="translate(1775.6 215) scale(.8 1)"><text y="-0.9">114</text><line class="ru" x1="-8.9" x2="8.9"/><text y="7">24.4</text></g>
<g transform="translate(1546 231) scale(.8 1)"><text y="-0.9">111</text><line class="ru" x1="-8.9" x2="8.9"/><text y="7">55.2</text></g>
<g transform="translate(1650 248) scale(.8 1)"><text y="-0.9">118</text><line class="ru" x1="-8.9" x2="8.9"/><text y="7">24.0</text></g>
<g transform="translate(699 273) scale(.8 1)"><text y="-0.9">57</text><line class="ru" x1="-6.4" x2="6.4"/><text y="7">20.5</text></g>
<g transform="translate(740.6 272) scale(.8 1)"><text y="-0.9">56</text><line class="ru" x1="-6.4" x2="6.4"/><text y="7">20.4</text></g>
<g transform="translate(784 272) scale(.8 1)"><text y="-0.9">55</text><line class="ru" x1="-6.4" x2="6.4"/><text y="7">19.9</text></g>
<g transform="translate(819.4 272) scale(.8 1)"><text y="-0.9">54</text><line class="ru" x1="-6.4" x2="6.4"/><text y="7">20.6</text></g>
<g transform="translate(862.6 271) scale(.8 1)"><text y="-0.9">53</text><line class="ru" x1="-6.4" x2="6.4"/><text y="7">20.2</text></g>
<g transform="translate(704.4 343) scale(.8 1)"><text y="-0.9">49</text><line class="ru" x1="-6.4" x2="6.4"/><text y="7">18.8</text></g>
<g transform="translate(743 340.6) scale(.8 1)"><text y="-0.9">50</text><line class="ru" x1="-6.4" x2="6.4"/><text y="7">19.1</text></g>
<g transform="translate(783.4 340) scale(.8 1)"><text y="-0.9">51</text><line class="ru" x1="-6.4" x2="6.4"/><text y="7">19.3</text></g>
<g transform="translate(820 340) scale(.8 1)"><text y="-0.9">52</text><line class="ru" x1="-6.4" x2="6.4"/><text y="7">17.5</text></g>
<g transform="translate(865 340) scale(.8 1)"><text y="-0.9">150</text><line class="ru" x1="-8.9" x2="8.9"/><text y="7">18.3</text></g>
<g transform="translate(903.6 340) scale(.8 1)"><text y="-0.9">151</text><line class="ru" x1="-8.9" x2="8.9"/><text y="7">20.6</text></g>
<g transform="translate(939 346) scale(.8 1)"><text y="-0.9">152</text><line class="ru" x1="-8.9" x2="8.9"/><text y="7">13.3</text></g>
<g transform="translate(986.6 346) scale(.8 1)"><text y="-0.9">153</text><line class="ru" x1="-8.9" x2="8.9"/><text y="7">13.5</text></g>
<g transform="translate(1023 340) scale(.8 1)"><text y="-0.9">154</text><line class="ru" x1="-8.9" x2="8.9"/><text y="7">20.2</text></g>
<g transform="translate(934.5 262.5) scale(.8 1)"><text y="-0.9">148</text><line class="ru" x1="-8.9" x2="8.9"/><text y="7">11.7</text></g>
<text transform="translate(900 294.5) scale(.8 1)" y="3.1">149</text>
<g transform="translate(923 294.5) scale(.8 1)"><text y="-0.9">147</text><line class="ru" x1="-8.9" x2="8.9"/><text y="7">1.8</text></g>
<g transform="translate(939 294.5) scale(.8 1)"><text y="-0.9">146</text><line class="ru" x1="-8.9" x2="8.9"/><text y="7">2.0</text></g>
<g transform="translate(959.3 294.5) scale(.8 1)"><text y="-0.9">145</text><line class="ru" x1="-8.9" x2="8.9"/><text y="7">3.3</text></g>
<g transform="translate(991 296) scale(.8 1)"><text y="-0.9">144</text><line class="ru" x1="-8.9" x2="8.9"/><text y="7">15.9</text></g>
<text transform="translate(1011 285.5) scale(.8 1)" y="3.1">143</text>
<g transform="translate(1030 271.5) scale(.8 1)"><text y="-0.9">142</text><line class="ru" x1="-8.9" x2="8.9"/><text y="7">12.6</text></g>
<g transform="translate(1065 272) scale(.8 1)"><text y="-0.9">141</text><line class="ru" x1="-8.9" x2="8.9"/><text y="7">20.3</text></g>
<g transform="translate(1103.6 272.6) scale(.8 1)"><text y="-0.9">140</text><line class="ru" x1="-8.9" x2="8.9"/><text y="7">20.5</text></g>
<g transform="translate(1144.6 273) scale(.8 1)"><text y="-0.9">139</text><line class="ru" x1="-8.9" x2="8.9"/><text y="7">19.7</text></g>
<g transform="translate(1064 341) scale(.8 1)"><text y="-0.9">155</text><line class="ru" x1="-8.9" x2="8.9"/><text y="7">19.9</text></g>
<g transform="translate(1103.6 341) scale(.8 1)"><text y="-0.9">156</text><line class="ru" x1="-8.9" x2="8.9"/><text y="7">19.2</text></g>
<g transform="translate(1145.4 342) scale(.8 1)"><text y="-0.9">157</text><line class="ru" x1="-8.9" x2="8.9"/><text y="7">19.5</text></g>
<g transform="translate(1258 352) scale(.8 1)"><text y="-0.9">158</text><line class="ru" x1="-8.9" x2="8.9"/><text y="7">13.6</text></g>
<g transform="translate(1306 353) scale(.8 1)"><text y="-0.9">159</text><line class="ru" x1="-8.9" x2="8.9"/><text y="7">13.5</text></g>
<g transform="translate(1343 349) scale(.8 1)"><text y="-0.9">160</text><line class="ru" x1="-8.9" x2="8.9"/><text y="7">20.6</text></g>
<g transform="translate(1382 351) scale(.8 1)"><text y="-0.9">161</text><line class="ru" x1="-8.9" x2="8.9"/><text y="7">19.9</text></g>
<g transform="translate(1294.5 270.5) scale(.8 1)"><text y="-0.9">137</text><line class="ru" x1="-8.9" x2="8.9"/><text y="7">12.2</text></g>
<text transform="translate(1259 300) scale(.8 1)" y="3.1">138</text>
<g transform="translate(1284.5 302) scale(.8 1)"><text y="-0.9">136</text><line class="ru" x1="-8.9" x2="8.9"/><text y="7">2.0</text></g>
<g transform="translate(1301.5 302.5) scale(.8 1)"><text y="-0.9">135</text><line class="ru" x1="-8.9" x2="8.9"/><text y="7">2.3</text></g>
<g transform="translate(1321.5 303) scale(.8 1)"><text y="-0.9">134</text><line class="ru" x1="-8.9" x2="8.9"/><text y="7">2.8</text></g>
<g transform="translate(1354.5 306.5) scale(.8 1)"><text y="-0.9">133</text><line class="ru" x1="-8.9" x2="8.9"/><text y="7">16.0</text></g>
<text transform="translate(1371.5 295) scale(.8 1)" y="3.1">132</text>
<g transform="translate(1394 283.5) scale(.8 1)"><text y="-0.9">131</text><line class="ru" x1="-8.9" x2="8.9"/><text y="7">12.8</text></g>
<g transform="translate(1426 285) scale(.8 1)"><text y="-0.9">130</text><line class="ru" x1="-8.9" x2="8.9"/><text y="7">20.5</text></g>
<g transform="translate(1465 287) scale(.8 1)"><text y="-0.9">129</text><line class="ru" x1="-8.9" x2="8.9"/><text y="7">20.1</text></g>
<g transform="translate(1506.6 289) scale(.8 1)"><text y="-0.9">128</text><line class="ru" x1="-8.9" x2="8.9"/><text y="7">20.0</text></g>
<g transform="translate(1546 292) scale(.8 1)"><text y="-0.9">127</text><line class="ru" x1="-8.9" x2="8.9"/><text y="7">19.5</text></g>
<g transform="translate(1577 296) scale(.8 1)"><text y="-0.9">126</text><line class="ru" x1="-8.9" x2="8.9"/><text y="7">13.0</text></g>
<text transform="translate(1596 309) scale(.8 1)" y="3.1">125</text>
<text transform="translate(1596 323) scale(.8 1)" y="3.1">124</text>
<g transform="translate(1624 275) scale(.8 1)"><text y="-0.9">123</text><line class="ru" x1="-8.9" x2="8.9"/><text y="7">14.4</text></g>
<g transform="translate(1682.6 297) scale(.8 1)"><text y="-0.9">119</text><line class="ru" x1="-8.9" x2="8.9"/><text y="7">12.5</text></g>
<g transform="translate(1647.4 323.6) scale(.8 1)"><text y="-0.9">122</text><line class="ru" x1="-8.9" x2="8.9"/><text y="7">3.1</text></g>
<g transform="translate(1668 324.6) scale(.8 1)"><text y="-0.9">121</text><line class="ru" x1="-8.9" x2="8.9"/><text y="7">2.1</text></g>
<g transform="translate(1688 326) scale(.8 1)"><text y="-0.9">120</text><line class="ru" x1="-8.9" x2="8.9"/><text y="7">2.4</text></g>
<g transform="translate(1711 329) scale(.8 1)"><text y="-0.9">170</text><line class="ru" x1="-8.9" x2="8.9"/><text y="7">3.0</text></g>
<g transform="translate(1698 261.4) scale(.8 1)"><text y="-0.9">117</text><line class="ru" x1="-8.9" x2="8.9"/><text y="7">2.4</text></g>
<g transform="translate(1734 256.4) scale(.8 1)"><text y="-0.9">113</text><line class="ru" x1="-8.9" x2="8.9"/><text y="7">53.3</text></g>
<g transform="translate(1423 353) scale(.8 1)"><text y="-0.9">162</text><line class="ru" x1="-8.9" x2="8.9"/><text y="7">20.2</text></g>
<g transform="translate(1462 355) scale(.8 1)"><text y="-0.9">163</text><line class="ru" x1="-8.9" x2="8.9"/><text y="7">19.2</text></g>
<g transform="translate(1501 358) scale(.8 1)"><text y="-0.9">164</text><line class="ru" x1="-8.9" x2="8.9"/><text y="7">19.5</text></g>
<g transform="translate(1540.4 361) scale(.8 1)"><text y="-0.9">165</text><line class="ru" x1="-8.9" x2="8.9"/><text y="7">20.1</text></g>
<g transform="translate(1579.6 364) scale(.8 1)"><text y="-0.9">166</text><line class="ru" x1="-8.9" x2="8.9"/><text y="7">20.2</text></g>
<g transform="translate(1620 367) scale(.8 1)"><text y="-0.9">167</text><line class="ru" x1="-8.9" x2="8.9"/><text y="7">20.4</text></g>
<g transform="translate(1657 374) scale(.8 1)"><text y="-0.9">168</text><line class="ru" x1="-8.9" x2="8.9"/><text y="7">14.0</text></g>
<g transform="translate(1704 374) scale(.8 1)"><text y="-0.9">169</text><line class="ru" x1="-8.9" x2="8.9"/><text y="7">16.4</text></g>
<g transform="translate(1749 309) scale(.8 1)"><text y="-0.9">171</text><line class="ru" x1="-8.9" x2="8.9"/><text y="7">19.0</text></g>
<g transform="translate(1785 299) scale(.8 1)"><text y="-0.9">115</text><line class="ru" x1="-8.9" x2="8.9"/><text y="7">11.7</text></g>
<g transform="translate(1785 335) scale(.8 1)"><text y="-0.9">116</text><line class="ru" x1="-8.9" x2="8.9"/><text y="7">4.7</text></g>
<g transform="translate(1741 377) scale(.8 1)"><text y="-0.9">172</text><line class="ru" x1="-8.9" x2="8.9"/><text y="7">20.5</text></g>
<g transform="translate(1779.4 381) scale(.8 1)"><text y="-0.9">173</text><line class="ru" x1="-8.9" x2="8.9"/><text y="7">20.0</text></g>
<g transform="translate(509 489) scale(.8 1)"><text y="-0.9">13</text><line class="ru" x1="-6.4" x2="6.4"/><text y="7">21.6</text></g>
<g transform="translate(629.6 484) scale(.8 1)"><text y="-0.9">6</text><line class="ru" x1="-4" x2="4"/><text y="7">21.1</text></g>
<g transform="translate(669.6 483) scale(.8 1)"><text y="-0.9">5</text><line class="ru" x1="-4" x2="4"/><text y="7">20.9</text></g>
<g transform="translate(709.6 480) scale(.8 1)"><text y="-0.9">4</text><line class="ru" x1="-4" x2="4"/><text y="7">20.1</text></g>
<g transform="translate(748 479) scale(.8 1)"><text y="-0.9">3</text><line class="ru" x1="-4" x2="4"/><text y="7">18.5</text></g>
<g transform="translate(940 477) scale(.8 1)"><text y="-0.9">205</text><line class="ru" x1="-8.9" x2="8.9"/><text y="7">20.3</text></g>
<g transform="translate(984 478) scale(.8 1)"><text y="-0.9">204</text><line class="ru" x1="-8.9" x2="8.9"/><text y="7">20.3</text></g>
<g transform="translate(1023 479.4) scale(.8 1)"><text y="-0.9">203</text><line class="ru" x1="-8.9" x2="8.9"/><text y="7">21.4</text></g>
<g transform="translate(1063.4 479.4) scale(.8 1)"><text y="-0.9">202</text><line class="ru" x1="-8.9" x2="8.9"/><text y="7">21.3</text></g>
<g transform="translate(1176 481) scale(.8 1)"><text y="-0.9">196</text><line class="ru" x1="-8.9" x2="8.9"/><text y="7">21.6</text></g>
<g transform="translate(1216 483) scale(.8 1)"><text y="-0.9">195</text><line class="ru" x1="-8.9" x2="8.9"/><text y="7">21.6</text></g>
<g transform="translate(1256 418) scale(.8 1)"><text y="-0.9">207</text><line class="ru" x1="-8.9" x2="8.9"/><text y="7">950.9</text></g>
<g transform="translate(1336.6 489) scale(.8 1)"><text y="-0.9">185</text><line class="ru" x1="-8.9" x2="8.9"/><text y="7">21.0</text></g>
<g transform="translate(1376.6 490) scale(.8 1)"><text y="-0.9">184</text><line class="ru" x1="-8.9" x2="8.9"/><text y="7">21.0</text></g>
<g transform="translate(1415.6 490.4) scale(.8 1)"><text y="-0.9">183</text><line class="ru" x1="-8.9" x2="8.9"/><text y="7">21.1</text></g>
<g transform="translate(1455 493.6) scale(.8 1)"><text y="-0.9">182</text><line class="ru" x1="-8.9" x2="8.9"/><text y="7">19.4</text></g>
<g transform="translate(1491 496) scale(.8 1)"><text y="-0.9">181</text><line class="ru" x1="-8.9" x2="8.9"/><text y="7">19.4</text></g>
<g transform="translate(1527.6 498) scale(.8 1)"><text y="-0.9">180</text><line class="ru" x1="-8.9" x2="8.9"/><text y="7">21.3</text></g>
<g transform="translate(1569 501) scale(.8 1)"><text y="-0.9">179</text><line class="ru" x1="-8.9" x2="8.9"/><text y="7">21.3</text></g>
<g transform="translate(1608.6 506) scale(.8 1)"><text y="-0.9">178</text><line class="ru" x1="-8.9" x2="8.9"/><text y="7">21.3</text></g>
<g transform="translate(1648.6 509.4) scale(.8 1)"><text y="-0.9">177</text><line class="ru" x1="-8.9" x2="8.9"/><text y="7">21.0</text></g>
<g transform="translate(1688.6 512.4) scale(.8 1)"><text y="-0.9">176</text><line class="ru" x1="-8.9" x2="8.9"/><text y="7">21.2</text></g>
<g transform="translate(1728 516) scale(.8 1)"><text y="-0.9">175</text><line class="ru" x1="-8.9" x2="8.9"/><text y="7">21.6</text></g>
<g transform="translate(1768 519.4) scale(.8 1)"><text y="-0.9">174</text><line class="ru" x1="-8.9" x2="8.9"/><text y="7">20.7</text></g>
<g transform="translate(204 578) scale(.8 1)"><text y="-0.9">31</text><line class="ru" x1="-6.4" x2="6.4"/><text y="7">22.1</text></g>
<g transform="translate(233 598) scale(.8 1)"><text y="-0.9">25</text><line class="ru" x1="-6.4" x2="6.4"/><text y="7">11.9</text></g>
<g transform="translate(297.4 598.6) scale(.8 1)"><text y="-0.9">26</text><line class="ru" x1="-6.4" x2="6.4"/><text y="7">3.3</text></g>
<g transform="translate(263.6 634) scale(.8 1)"><text y="-0.9">23</text><line class="ru" x1="-6.4" x2="6.4"/><text y="7">20.3</text></g>
<g transform="translate(206.4 653) scale(.8 1)"><text y="-0.9">24</text><line class="ru" x1="-6.4" x2="6.4"/><text y="7">22.3</text></g>
<g transform="translate(267.4 673) scale(.8 1)"><text y="-0.9">22</text><line class="ru" x1="-6.4" x2="6.4"/><text y="7">21.5</text></g>
<g transform="translate(417.4 571) scale(.8 1)"><text y="-0.9">19</text><line class="ru" x1="-6.4" x2="6.4"/><text y="7">18.8</text></g>
<g transform="translate(473 568) scale(.8 1)"><text y="-0.9">15</text><line class="ru" x1="-6.4" x2="6.4"/><text y="7">28.0</text></g>
<g transform="translate(512 568) scale(.8 1)"><text y="-0.9">12</text><line class="ru" x1="-6.4" x2="6.4"/><text y="7">26.4</text></g>
<g transform="translate(421 633) scale(.8 1)"><text y="-0.9">20</text><line class="ru" x1="-6.4" x2="6.4"/><text y="7">19.8</text></g>
<g transform="translate(486 631) scale(.8 1)"><text y="-0.9">11</text><line class="ru" x1="-6.4" x2="6.4"/><text y="7">20.8</text></g>
<g transform="translate(420 673) scale(.8 1)"><text y="-0.9">21</text><line class="ru" x1="-6.4" x2="6.4"/><text y="7">21.6</text></g>
<g transform="translate(486 673) scale(.8 1)"><text y="-0.9">10</text><line class="ru" x1="-6.4" x2="6.4"/><text y="7">21.5</text></g>
<g transform="translate(394 495) scale(.8 1)"><text y="-0.9">17</text><line class="ru" x1="-6.4" x2="6.4"/><text y="7">19.5</text></g>
<g transform="translate(430.4 492.6) scale(.8 1)"><text y="-0.9">16</text><line class="ru" x1="-6.4" x2="6.4"/><text y="7">19.6</text></g>
<g transform="translate(469.6 490) scale(.8 1)"><text y="-0.9">14</text><line class="ru" x1="-6.4" x2="6.4"/><text y="7">21.5</text></g>
<g transform="translate(415 541) scale(.8 1)"><text y="-0.9">18</text><line class="ru" x1="-6.4" x2="6.4"/><text y="7">16.2</text></g>
<g transform="translate(649.6 538) scale(.8 1)"><text y="-0.9">7</text><line class="ru" x1="-4" x2="4"/><text y="7">26.8</text></g>
<g transform="translate(650.6 585) scale(.8 1)"><text y="-0.9">8</text><line class="ru" x1="-4" x2="4"/><text y="7">33.7</text></g>
<g transform="translate(735.4 562) scale(.8 1)"><text y="-0.9">2</text><line class="ru" x1="-4" x2="4"/><text y="7">62.3</text></g>
<g transform="translate(657 655) scale(.8 1)"><text y="-0.9">9</text><line class="ru" x1="-4" x2="4"/><text y="7">49.0</text></g>
<g transform="translate(954.3 562) scale(.8 1)"><text y="-0.9">206</text><line class="ru" x1="-8.9" x2="8.9"/><text y="7">70.3</text></g>
<g transform="translate(1044.6 533.7) scale(.8 1)"><text y="-0.9">201</text><line class="ru" x1="-8.9" x2="8.9"/><text y="7">26.1</text></g>
<g transform="translate(1044.6 583.4) scale(.8 1)"><text y="-0.9">200</text><line class="ru" x1="-8.9" x2="8.9"/><text y="7">36.3</text></g>
<g transform="translate(1043.8 654.9) scale(.8 1)"><text y="-0.9">199</text><line class="ru" x1="-8.9" x2="8.9"/><text y="7">48.6</text></g>
<g transform="translate(1188.4 571) scale(.8 1)"><text y="-0.9">193</text><line class="ru" x1="-8.9" x2="8.9"/><text y="7">21.1</text></g>
<g transform="translate(1201 629) scale(.8 1)"><text y="-0.9">197</text><line class="ru" x1="-8.9" x2="8.9"/><text y="7">20.8</text></g>
<g transform="translate(1200 674) scale(.8 1)"><text y="-0.9">198</text><line class="ru" x1="-8.9" x2="8.9"/><text y="7">20.6</text></g>
<g transform="translate(1250 661) scale(.8 1)"><text y="-0.9">192</text><line class="ru" x1="-8.9" x2="8.9"/><text y="7">21.3</text></g>
<g transform="translate(1289 661) scale(.8 1)"><text y="-0.9">191</text><line class="ru" x1="-8.9" x2="8.9"/><text y="7">21.0</text></g>
<g transform="translate(1351 655) scale(.8 1)"><text y="-0.9">190</text><line class="ru" x1="-8.9" x2="8.9"/><text y="7">48.2</text></g>
<g transform="translate(1320 601) scale(.8 1)"><text y="-0.9">188</text><line class="ru" x1="-8.9" x2="8.9"/><text y="7">3.0</text></g>
<g transform="translate(1336.4 604) scale(.8 1)"><text y="-0.9">189</text><line class="ru" x1="-8.9" x2="8.9"/><text y="7">12.0</text></g>
<g transform="translate(1353 571) scale(.8 1)"><text y="-0.9">187</text><line class="ru" x1="-8.9" x2="8.9"/><text y="7">19.8</text></g>
<g transform="translate(1189.6 535) scale(.8 1)"><text y="-0.9">194</text><line class="ru" x1="-8.9" x2="8.9"/><text y="7">27.4</text></g>
<g transform="translate(1354 538) scale(.8 1)"><text y="-0.9">186</text><line class="ru" x1="-8.9" x2="8.9"/><text y="7">20.6</text></g>
<g transform="translate(467.3 416.7) scale(.8 1)"><text y="-0.9">1</text><line class="ru" x1="-4" x2="4"/><text y="7">886.7</text></g>
</g>
<g class="m">
<text transform="translate(56 424) scale(.98 1)" y="2.8">I м/м 148</text>
<text transform="translate(95 423) scale(.98 1)" y="2.8">I м/м 149</text>
<text transform="translate(131 422) scale(.98 1)" y="2.8">I м/м 150</text>
<text transform="translate(172 414.4) scale(.98 1)" y="2.8">I м/м 151</text>
<text transform="translate(208 413) scale(.98 1)" y="2.8">I м/м 152</text>
<text transform="translate(252 408) scale(.98 1)" y="2.8">I м/м 153</text>
<text transform="translate(292 404.4) scale(.98 1)" y="2.8">I м/м 154</text>
<text transform="translate(333 399.4) scale(.98 1)" y="2.8">I м/м 155</text>
<text transform="translate(60 476.4) scale(.98 1)" y="2.8">I м/м 147</text>
<text transform="translate(99.4 473) scale(.98 1)" y="2.8">I м/м 146</text>
<text transform="translate(139 469.6) scale(.98 1)" y="2.8">I м/м 145</text>
<text transform="translate(179.4 464.6) scale(.98 1)" y="2.8">I м/м 143</text>
<text transform="translate(222 460.6) scale(.98 1)" y="2.8">I м/м 142</text>
<text transform="translate(260 460) scale(.98 1)" y="2.8">I м/м 141</text>
<text transform="translate(187 551) scale(.98 1)" y="2.8">I м/м 144</text>
<text transform="translate(305 557) scale(.98 1)" y="2.8">I м/м 140</text>
<text transform="translate(406 243.6) scale(.98 1)" y="2.8">I м/м 158</text>
<text transform="translate(369.6 398) scale(.98 1)" y="2.8">I м/м 156</text>
<text transform="translate(409.6 395.6) scale(.98 1)" y="2.8">I м/м 157</text>
<text transform="translate(530 389) scale(.98 1)" y="2.8">I м/м 206</text>
<text transform="translate(572 388.4) scale(.98 1)" y="2.8">I м/м 207</text>
<text transform="translate(608 386.4) scale(.98 1)" y="2.8">I м/м 208</text>
<text transform="translate(360 227) scale(.98 1)" y="2.8">I м/м 159</text>
<text transform="translate(403 223) scale(.98 1)" y="2.8">I м/м 160</text>
<text transform="translate(442 220) scale(.98 1)" y="2.8">I м/м 161</text>
<text transform="translate(479 213.6) scale(.98 1)" y="2.8">I м/м 162</text>
<text transform="translate(525 208.6) scale(.98 1)" y="2.8">I м/м 163</text>
<text transform="translate(561 201.6) scale(.98 1)" y="2.8">I м/м 164</text>
<text transform="translate(602.4 197) scale(.98 1)" y="2.8">I м/м 165</text>
<text transform="translate(642 195.6) scale(.98 1)" y="2.8">I м/м 166</text>
<text transform="translate(681 192.4) scale(.98 1)" y="2.8">I м/м 167</text>
<text transform="translate(722 187) scale(.98 1)" y="2.8">I м/м 168</text>
<text transform="translate(770 182) scale(.98 1)" y="2.8">I м/м 169</text>
<text transform="translate(806 182.6) scale(.98 1)" y="2.8">I м/м 170</text>
<text transform="translate(848 180.6) scale(.98 1)" y="2.8">I м/м 171</text>
<text transform="translate(886 180.4) scale(.98 1)" y="2.8">I м/м 172</text>
<text transform="translate(927 178.4) scale(.98 1)" y="2.8">I м/м 173</text>
<text transform="translate(964 179) scale(.98 1)" y="2.8">I м/м 174</text>
<text transform="translate(1009 179.4) scale(.98 1)" y="2.8">I м/м 175</text>
<text transform="translate(1049 177.6) scale(.98 1)" y="2.8">I м/м 176</text>
<text transform="translate(1088 179) scale(.98 1)" y="2.8">I м/м 177</text>
<text transform="translate(1135 181) scale(.98 1)" y="2.8">I м/м 178</text>
<text transform="translate(1176 181) scale(.98 1)" y="2.8">I м/м 179</text>
<text transform="translate(1215 181.6) scale(.98 1)" y="2.8">I м/м 180</text>
<text transform="translate(1256 185.6) scale(.98 1)" y="2.8">I м/м 181</text>
<text transform="translate(1292 191.4) scale(.98 1)" y="2.8">I м/м 182</text>
<text transform="translate(1334 193.6) scale(.98 1)" y="2.8">I м/м 183</text>
<text transform="translate(1371.6 197) scale(.98 1)" y="2.8">I м/м 184</text>
<text transform="translate(1415 202) scale(.98 1)" y="2.8">I м/м 185</text>
<text transform="translate(1452 205) scale(.98 1)" y="2.8">I м/м 186</text>
<text transform="translate(1500 206) scale(.98 1)" y="2.8">I м/м 187</text>
<text transform="translate(1537 212) scale(.98 1)" y="2.8">I м/м 188</text>
<text transform="translate(1574.6 216) scale(.98 1)" y="2.8">I м/м 189</text>
<text transform="translate(1454 245) scale(.98 1)" y="2.8">I м/м 193</text>
<text transform="translate(1496 246) scale(.98 1)" y="2.8">I м/м 192</text>
<text transform="translate(1533.6 250) scale(.98 1)" y="2.8">I м/м 191</text>
<text transform="translate(652 232) scale(.98 1)" y="2.8">I м/м 205</text>
<text transform="translate(685 232) scale(.98 1)" y="2.8">I м/м 204</text>
<text transform="translate(725.6 232.4) scale(.98 1)" y="2.8">I м/м 203</text>
<text transform="translate(769 230) scale(.98 1)" y="2.8">I м/м 202</text>
<text transform="translate(810 229) scale(.98 1)" y="2.8">I м/м 201</text>
<text transform="translate(848 228) scale(.98 1)" y="2.8">I м/м 200</text>
<text transform="translate(1017 229.5) scale(.98 1)" y="2.8">I м/м 199</text>
<text transform="translate(1052 230) scale(.98 1)" y="2.8">I м/м 198</text>
<text transform="translate(1087 228) scale(.98 1)" y="2.8">I м/м 197</text>
<text transform="translate(1133 228) scale(.98 1)" y="2.8">I м/м 196</text>
<text transform="translate(1376 242) scale(.98 1)" y="2.8">I м/м 195</text>
<text transform="translate(1418 241.6) scale(.98 1)" y="2.8">I м/м 194</text>
<text transform="translate(1568 252.4) scale(.98 1)" y="2.8">I м/м 190</text>
<text transform="translate(1728 333) scale(.98 1)" y="2.8">I м/м 235</text>
<text transform="translate(1682 419) scale(.98 1)" y="2.8">I м/м 233</text>
<text transform="translate(1723.6 421) scale(.98 1)" y="2.8">I м/м 234</text>
<text transform="translate(648 385.6) scale(.98 1)" y="2.8">I м/м 209</text>
<text transform="translate(690 384.4) scale(.98 1)" y="2.8">I м/м 210</text>
<text transform="translate(730 384.4) scale(.98 1)" y="2.8">I м/м 211</text>
<text transform="translate(770 381.6) scale(.98 1)" y="2.8">I м/м 212</text>
<text transform="translate(812 379) scale(.98 1)" y="2.8">I м/м 213</text>
<text transform="translate(850 378) scale(.98 1)" y="2.8">I м/м 214</text>
<text transform="translate(494 445.4) scale(.98 1)" y="2.8">I м/м 129</text>
<text transform="translate(613 440) scale(.98 1)" y="2.8">I м/м 123</text>
<text transform="translate(654 438.4) scale(.98 1)" y="2.8">I м/м 122</text>
<text transform="translate(695 436.4) scale(.98 1)" y="2.8">I м/м 121</text>
<text transform="translate(733 434.4) scale(.98 1)" y="2.8">I м/м 120</text>
<text transform="translate(890 379) scale(.98 1)" y="2.8">I м/м 215</text>
<text transform="translate(921 380.6) scale(.98 1)" y="2.8">I м/м 216</text>
<text transform="translate(970 380) scale(.98 1)" y="2.8">I м/м 217</text>
<text transform="translate(1007 381.4) scale(.98 1)" y="2.8">I м/м 218</text>
<text transform="translate(1049 382) scale(.98 1)" y="2.8">I м/м 219</text>
<text transform="translate(1088.6 383) scale(.98 1)" y="2.8">I м/м 220</text>
<text transform="translate(1126 387.6) scale(.98 1)" y="2.8">I м/м 221</text>
<text transform="translate(924 433.4) scale(.98 1)" y="2.8">I м/м 264</text>
<text transform="translate(969 437) scale(.98 1)" y="2.8">I м/м 263</text>
<text transform="translate(1009 431.6) scale(.98 1)" y="2.8">I м/м 262</text>
<text transform="translate(1050 430.4) scale(.98 1)" y="2.8">I м/м 261</text>
<text transform="translate(1165 437.6) scale(.98 1)" y="2.8">I м/м 256</text>
<text transform="translate(1207 438.4) scale(.98 1)" y="2.8">I м/м 255</text>
<text transform="translate(1245 387) scale(.98 1)" y="2.8">I м/м 222</text>
<text transform="translate(1287 387.4) scale(.98 1)" y="2.8">I м/м 223</text>
<text transform="translate(1324.4 390.4) scale(.98 1)" y="2.8">I м/м 224</text>
<text transform="translate(1362.4 395) scale(.98 1)" y="2.8">I м/м 225</text>
<text transform="translate(1403 398.4) scale(.98 1)" y="2.8">I м/м 226</text>
<text transform="translate(1444.4 398.4) scale(.98 1)" y="2.8">I м/м 227</text>
<text transform="translate(1482 401) scale(.98 1)" y="2.8">I м/м 228</text>
<text transform="translate(1520 403) scale(.98 1)" y="2.8">I м/м 229</text>
<text transform="translate(1560 407.6) scale(.98 1)" y="2.8">I м/м 230</text>
<text transform="translate(1324 443.4) scale(.98 1)" y="2.8">I м/м 248</text>
<text transform="translate(1363 448.6) scale(.98 1)" y="2.8">I м/м 247</text>
<text transform="translate(1403 449.4) scale(.98 1)" y="2.8">I м/м 246</text>
<text transform="translate(1443 447.6) scale(.98 1)" y="2.8">I м/м 245</text>
<text transform="translate(1481 451.4) scale(.98 1)" y="2.8">I м/м 244</text>
<text transform="translate(1518 454) scale(.98 1)" y="2.8">I м/м 243</text>
<text transform="translate(1557.6 455) scale(.98 1)" y="2.8">I м/м 242</text>
<text transform="translate(1598 409.4) scale(.98 1)" y="2.8">I м/м 231</text>
<text transform="translate(1637 411.6) scale(.98 1)" y="2.8">I м/м 232</text>
<text transform="translate(1761 425) scale(.98 1)" y="2.8">I м/м 236</text>
<text transform="translate(1599 461.4) scale(.98 1)" y="2.8">I м/м 241</text>
<text transform="translate(1639 466) scale(.98 1)" y="2.8">I м/м 240</text>
<text transform="translate(1677 469.4) scale(.98 1)" y="2.8">I м/м 239</text>
<text transform="translate(1717 470.6) scale(.98 1)" y="2.8">I м/м 238</text>
<text transform="translate(1756 473.6) scale(.98 1)" y="2.8">I м/м 237</text>
<text transform="translate(355 543) scale(.98 1)" y="2.8">I м/м 134</text>
<text transform="translate(356 573.6) scale(.98 1)" y="2.8">I м/м 135</text>
<text transform="translate(298 628) scale(.98 1)" y="2.8">I м/м 139</text>
<text transform="translate(355 633.6) scale(.98 1)" y="2.8">I м/м 136</text>
<text transform="translate(306 670) scale(.98 1)" y="2.8">I м/м 138</text>
<text transform="translate(359 669.6) scale(.98 1)" y="2.8">I м/м 137</text>
<text transform="translate(519 631) scale(.98 1)" y="2.8">I м/м 127</text>
<text transform="translate(524 670) scale(.98 1)" y="2.8">I м/м 126</text>
<text transform="translate(378 451) scale(.98 1)" y="2.8">I м/м 133</text>
<text transform="translate(414 450) scale(.98 1)" y="2.8">I м/м 132</text>
<text transform="translate(453 447.6) scale(.98 1)" y="2.8">I м/м 130</text>
<text transform="translate(458 532.4) scale(.98 1)" y="2.8">I м/м 131</text>
<text transform="translate(496 531.4) scale(.98 1)" y="2.8">I м/м 128</text>
<text transform="translate(582 537.4) scale(.98 1)" y="2.8">I м/м 124</text>
<text transform="translate(583 584.6) scale(.98 1)" y="2.8">I м/м 125</text>
<text transform="translate(1087 583) scale(.98 1)" y="2.8">I м/м 259</text>
<text transform="translate(1237 571.6) scale(.98 1)" y="2.8">I м/м 253</text>
<text transform="translate(1283 572) scale(.98 1)" y="2.8">I м/м 250</text>
<text transform="translate(1140.4 626) scale(.98 1)" y="2.8">I м/м 257</text>
<text transform="translate(1237.6 619.6) scale(.98 1)" y="2.8">I м/м 252</text>
<text transform="translate(1275 618.4) scale(.98 1)" y="2.8">I м/м 251</text>
<text transform="translate(1134.4 671) scale(.98 1)" y="2.8">I м/м 258</text>
<text transform="translate(1086 534.4) scale(.98 1)" y="2.8">I м/м 260</text>
<text transform="translate(1235 533) scale(.98 1)" y="2.8">I м/м 254</text>
<text transform="translate(1282 537) scale(.98 1)" y="2.8">I м/м 249</text>
</g>
<g class="red">
<polygon points="1725.8,276.4 1766.6,276.8 1766.6,337 1725.8,337" stroke-width="4.4"/>
<polygon points="1723.6,342.6 1764,345 1758.6,409.4 1718.6,406.4" stroke-width="7"/>
</g>
<g class="wm"><path fill-rule="evenodd" d="M101.6 681.6 L137.3 704.7 L137.3 725.1 L109.5 756.7 L67.3 756.7 L67.3 704.7Z M101.6 699.5 L122.6 713.1 L122.6 720.1 L113.1 722.6 L109.5 731.0 L109.5 740.5 L82.6 740.5 L82.6 712.1Z"/><text x="153" y="742" font-size="58" font-weight="bold" textLength="262" lengthAdjust="spacingAndGlyphs">Домклик</text></g>
</svg></body></html>
